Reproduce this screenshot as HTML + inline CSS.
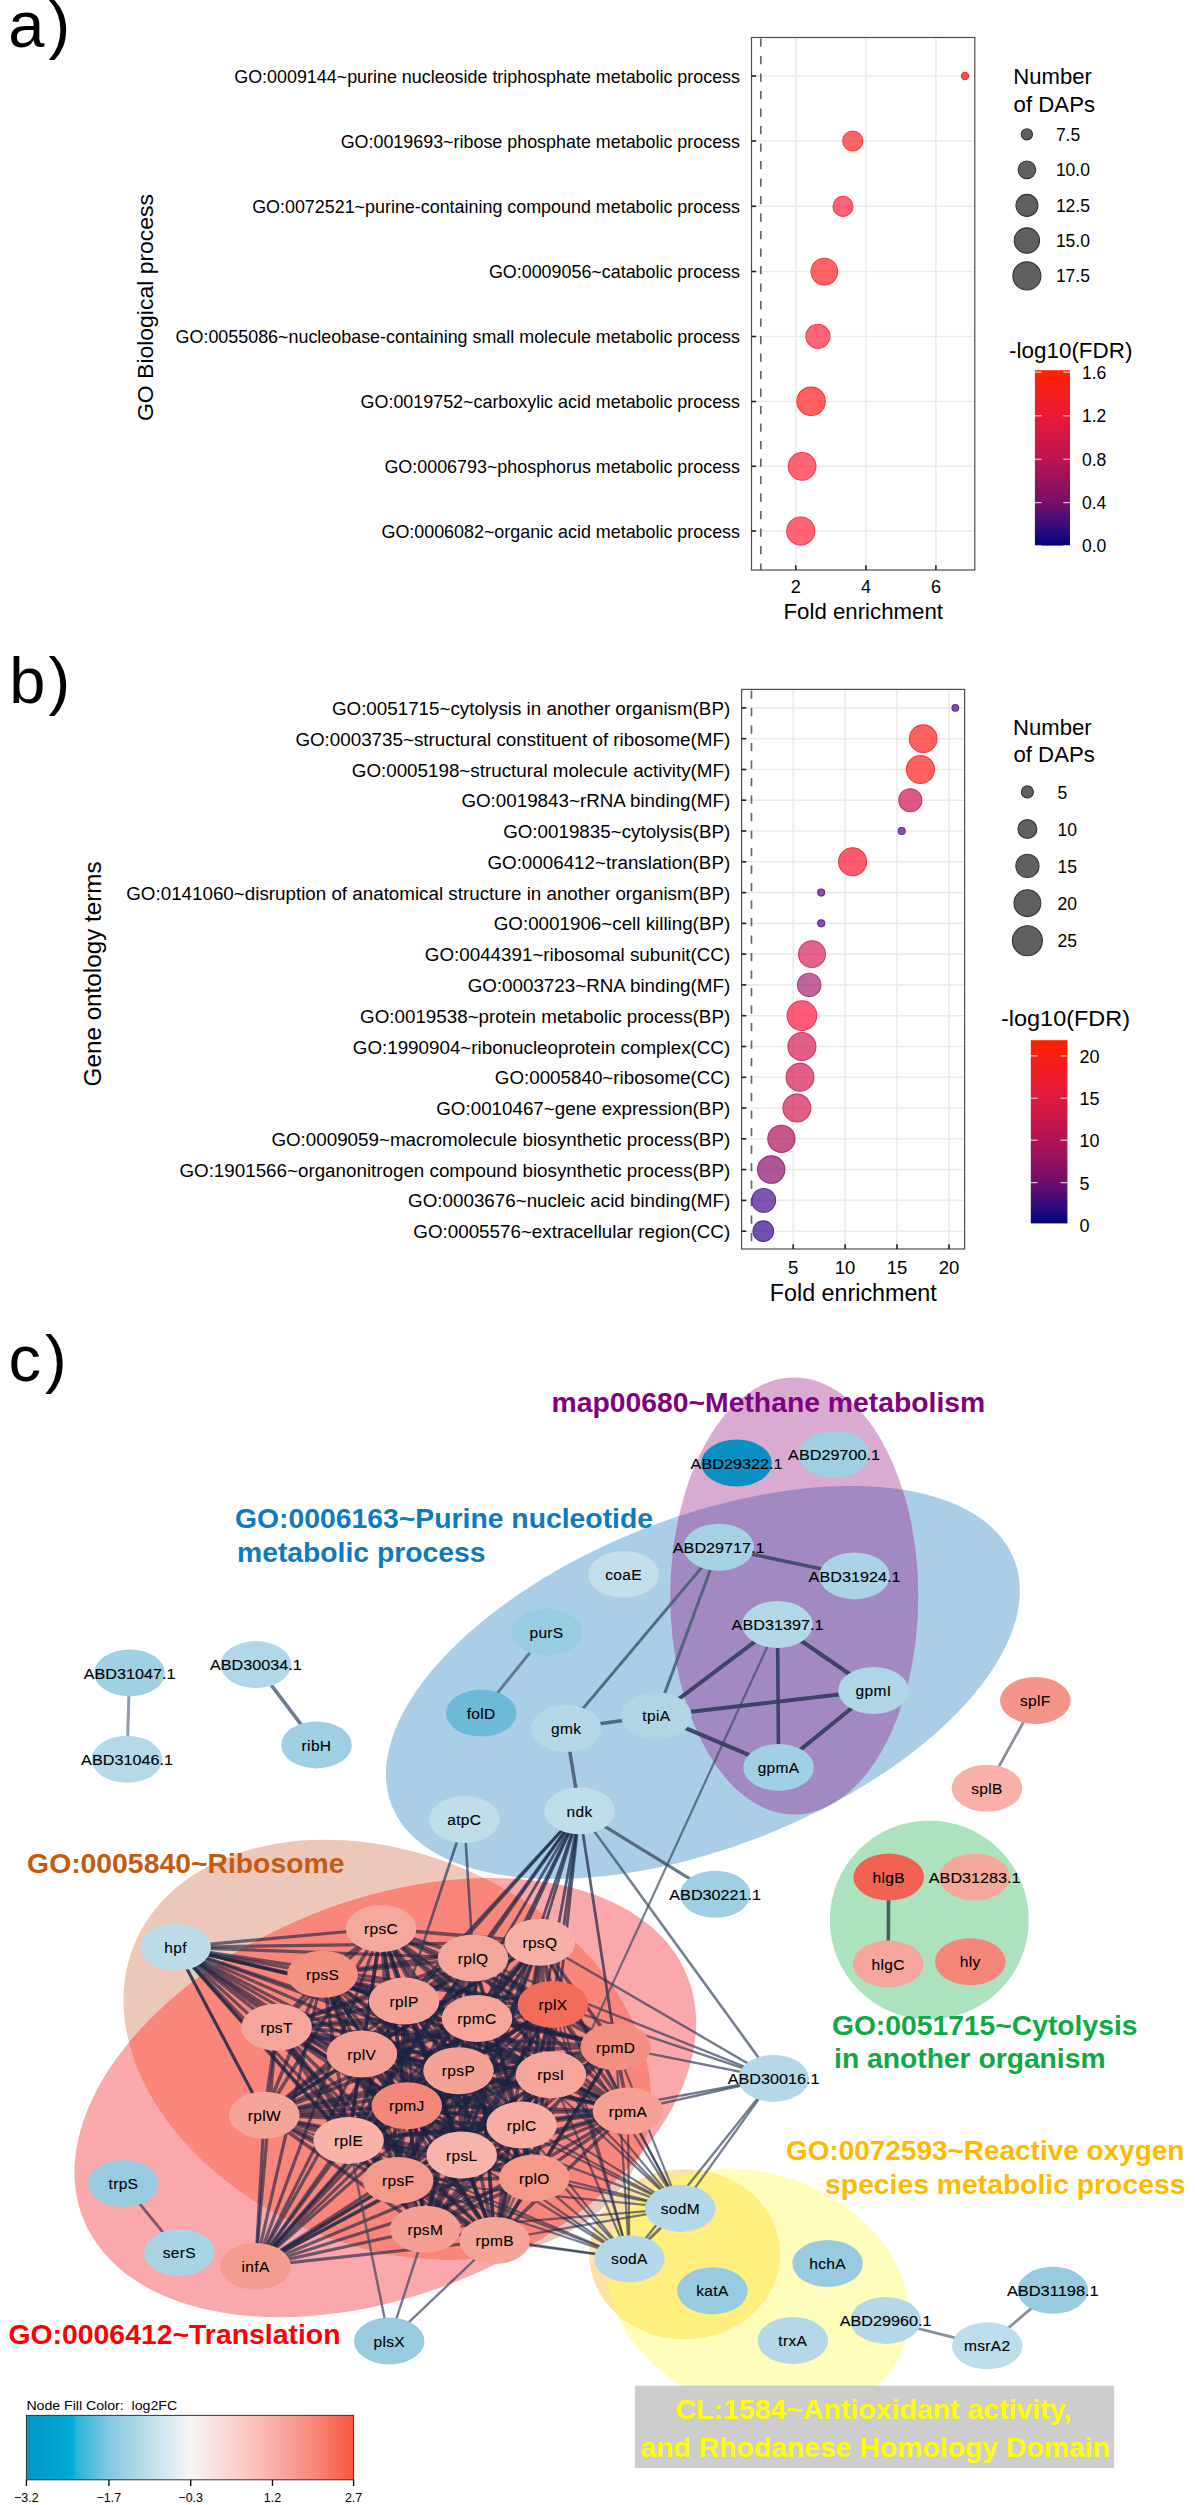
<!DOCTYPE html><html><head><meta charset="utf-8"><style>html,body{margin:0;padding:0;background:#fff}svg{display:block}text{font-family:"Liberation Sans",sans-serif}</style></head><body>
<svg width="1195" height="2505" viewBox="0 0 1195 2505">
<rect width="1195" height="2505" fill="#fff"/>
<text x="8.3" y="47.2" font-size="65" text-anchor="start" font-weight="normal" fill="#000">a</text>
<text x="48.6" y="47.2" font-size="65" text-anchor="start" font-weight="normal" fill="#000">)</text>
<text x="9.2" y="703.1" font-size="65" text-anchor="start" font-weight="normal" fill="#000">b</text>
<text x="48.6" y="703.1" font-size="65" text-anchor="start" font-weight="normal" fill="#000">)</text>
<text x="8.5" y="1380.5" font-size="65" text-anchor="start" font-weight="normal" fill="#000">c</text>
<text x="44.9" y="1380.5" font-size="65" text-anchor="start" font-weight="normal" fill="#000">)</text>
<line x1="795.8" y1="37.5" x2="795.8" y2="570" stroke="#EBEBEB" stroke-width="1.6"/>
<line x1="865.9" y1="37.5" x2="865.9" y2="570" stroke="#EBEBEB" stroke-width="1.6"/>
<line x1="935.9" y1="37.5" x2="935.9" y2="570" stroke="#EBEBEB" stroke-width="1.6"/>
<line x1="751.5" y1="76.0" x2="974.8" y2="76.0" stroke="#EBEBEB" stroke-width="1.6"/>
<line x1="751.5" y1="141.0" x2="974.8" y2="141.0" stroke="#EBEBEB" stroke-width="1.6"/>
<line x1="751.5" y1="206.3" x2="974.8" y2="206.3" stroke="#EBEBEB" stroke-width="1.6"/>
<line x1="751.5" y1="271.5" x2="974.8" y2="271.5" stroke="#EBEBEB" stroke-width="1.6"/>
<line x1="751.5" y1="336.5" x2="974.8" y2="336.5" stroke="#EBEBEB" stroke-width="1.6"/>
<line x1="751.5" y1="401.5" x2="974.8" y2="401.5" stroke="#EBEBEB" stroke-width="1.6"/>
<line x1="751.5" y1="466.3" x2="974.8" y2="466.3" stroke="#EBEBEB" stroke-width="1.6"/>
<line x1="751.5" y1="531.0" x2="974.8" y2="531.0" stroke="#EBEBEB" stroke-width="1.6"/>
<line x1="760.8" y1="38.5" x2="760.8" y2="570" stroke="#5F6B6B" stroke-width="1.7" stroke-dasharray="8.3 9.2"/>
<circle cx="965" cy="76" r="3.6" fill="#FF0505" fill-opacity="0.7" stroke="#FF2A2A" stroke-width="1.1"/>
<circle cx="852.7" cy="141" r="10" fill="#FF2222" fill-opacity="0.7" stroke="#FF3A3A" stroke-width="1.1"/>
<circle cx="843" cy="206.4" r="10" fill="#FF233D" fill-opacity="0.7" stroke="#FF3550" stroke-width="1.1"/>
<circle cx="824.3" cy="271.6" r="13.3" fill="#FF2222" fill-opacity="0.7" stroke="#FF3A3A" stroke-width="1.1"/>
<circle cx="817.9" cy="336.3" r="12" fill="#FF233D" fill-opacity="0.7" stroke="#FF3550" stroke-width="1.1"/>
<circle cx="811.1" cy="401.3" r="14.2" fill="#FF1C1C" fill-opacity="0.7" stroke="#FF3333" stroke-width="1.1"/>
<circle cx="802.1" cy="466.3" r="13.8" fill="#FF233D" fill-opacity="0.7" stroke="#FF3550" stroke-width="1.1"/>
<circle cx="800.7" cy="531" r="14" fill="#FF233D" fill-opacity="0.7" stroke="#FF3550" stroke-width="1.1"/>
<rect x="751.5" y="37.5" width="223.30" height="532.50" fill="none" stroke="#4D4D4D" stroke-width="1.2"/>
<line x1="751.5" y1="76.0" x2="756.1" y2="76.0" stroke="#222" stroke-width="1.6"/>
<line x1="751.5" y1="141.0" x2="756.1" y2="141.0" stroke="#222" stroke-width="1.6"/>
<line x1="751.5" y1="206.3" x2="756.1" y2="206.3" stroke="#222" stroke-width="1.6"/>
<line x1="751.5" y1="271.5" x2="756.1" y2="271.5" stroke="#222" stroke-width="1.6"/>
<line x1="751.5" y1="336.5" x2="756.1" y2="336.5" stroke="#222" stroke-width="1.6"/>
<line x1="751.5" y1="401.5" x2="756.1" y2="401.5" stroke="#222" stroke-width="1.6"/>
<line x1="751.5" y1="466.3" x2="756.1" y2="466.3" stroke="#222" stroke-width="1.6"/>
<line x1="751.5" y1="531.0" x2="756.1" y2="531.0" stroke="#222" stroke-width="1.6"/>
<line x1="795.8" y1="570" x2="795.8" y2="565.2" stroke="#222" stroke-width="1.6"/>
<line x1="865.9" y1="570" x2="865.9" y2="565.2" stroke="#222" stroke-width="1.6"/>
<line x1="935.9" y1="570" x2="935.9" y2="565.2" stroke="#222" stroke-width="1.6"/>
<text x="740.0" y="82.6" font-size="17.9" text-anchor="end" font-weight="normal" fill="#000">GO:0009144~purine nucleoside triphosphate metabolic process</text>
<text x="740.0" y="147.6" font-size="17.9" text-anchor="end" font-weight="normal" fill="#000">GO:0019693~ribose phosphate metabolic process</text>
<text x="740.0" y="212.9" font-size="17.9" text-anchor="end" font-weight="normal" fill="#000">GO:0072521~purine-containing compound metabolic process</text>
<text x="740.0" y="278.1" font-size="17.9" text-anchor="end" font-weight="normal" fill="#000">GO:0009056~catabolic process</text>
<text x="740.0" y="343.1" font-size="17.9" text-anchor="end" font-weight="normal" fill="#000">GO:0055086~nucleobase-containing small molecule metabolic process</text>
<text x="740.0" y="408.1" font-size="17.9" text-anchor="end" font-weight="normal" fill="#000">GO:0019752~carboxylic acid metabolic process</text>
<text x="740.0" y="472.9" font-size="17.9" text-anchor="end" font-weight="normal" fill="#000">GO:0006793~phosphorus metabolic process</text>
<text x="740.0" y="537.6" font-size="17.9" text-anchor="end" font-weight="normal" fill="#000">GO:0006082~organic acid metabolic process</text>
<text x="795.8" y="593.0" font-size="18" text-anchor="middle" font-weight="normal" fill="#000">2</text>
<text x="865.9" y="593.0" font-size="18" text-anchor="middle" font-weight="normal" fill="#000">4</text>
<text x="935.9" y="593.0" font-size="18" text-anchor="middle" font-weight="normal" fill="#000">6</text>
<text x="783.5" y="618.7" font-size="22" text-anchor="start" font-weight="normal" fill="#000" textLength="159.5" lengthAdjust="spacingAndGlyphs">Fold enrichment</text>
<text transform="translate(152.9 307.5) rotate(-90)" x="0" y="0" font-size="22.5" text-anchor="middle" textLength="227" lengthAdjust="spacingAndGlyphs">GO Biological process</text>
<text x="1013.3" y="84.4" font-size="22" text-anchor="start" font-weight="normal" fill="#000" textLength="78.5" lengthAdjust="spacingAndGlyphs">Number</text>
<text x="1013.6" y="111.7" font-size="22" text-anchor="start" font-weight="normal" fill="#000" textLength="81.5" lengthAdjust="spacingAndGlyphs">of DAPs</text>
<circle cx="1026.9" cy="134.3" r="5.6" fill="#606060" stroke="#333" stroke-width="1.1"/>
<text x="1055.9" y="140.7" font-size="17.5" text-anchor="start" font-weight="normal" fill="#000">7.5</text>
<circle cx="1026.9" cy="169.8" r="8.8" fill="#606060" stroke="#333" stroke-width="1.1"/>
<text x="1055.9" y="176.2" font-size="17.5" text-anchor="start" font-weight="normal" fill="#000">10.0</text>
<circle cx="1026.9" cy="205.4" r="11" fill="#606060" stroke="#333" stroke-width="1.1"/>
<text x="1055.9" y="211.8" font-size="17.5" text-anchor="start" font-weight="normal" fill="#000">12.5</text>
<circle cx="1026.9" cy="240.5" r="12.65" fill="#606060" stroke="#333" stroke-width="1.1"/>
<text x="1055.9" y="246.9" font-size="17.5" text-anchor="start" font-weight="normal" fill="#000">15.0</text>
<circle cx="1026.9" cy="275.9" r="14" fill="#606060" stroke="#333" stroke-width="1.1"/>
<text x="1055.9" y="282.3" font-size="17.5" text-anchor="start" font-weight="normal" fill="#000">17.5</text>
<defs><linearGradient id="cbar" x1="0" y1="1" x2="0" y2="0"><stop offset="0" stop-color="#000080"/><stop offset="0.08" stop-color="#2A0B7E"/><stop offset="0.25" stop-color="#780F68"/><stop offset="0.5" stop-color="#BD1450"/><stop offset="0.75" stop-color="#EA1A36"/><stop offset="1" stop-color="#FF2200"/></linearGradient></defs>
<text x="1009.1" y="357.8" font-size="22" text-anchor="start" font-weight="normal" fill="#000" textLength="123.3" lengthAdjust="spacingAndGlyphs">-log10(FDR)</text>
<rect x="1034.9" y="370.2" width="35.1" height="175.4" fill="url(#cbar)"/>
<line x1="1034.9" y1="372.2" x2="1041.6" y2="372.2" stroke="#fff" stroke-opacity="0.75" stroke-width="1.2"/>
<line x1="1063.3" y1="372.2" x2="1070" y2="372.2" stroke="#fff" stroke-opacity="0.75" stroke-width="1.2"/>
<text x="1082.0" y="378.6" font-size="17.5" text-anchor="start" font-weight="normal" fill="#000">1.6</text>
<line x1="1034.9" y1="415.8" x2="1041.6" y2="415.8" stroke="#fff" stroke-opacity="0.75" stroke-width="1.2"/>
<line x1="1063.3" y1="415.8" x2="1070" y2="415.8" stroke="#fff" stroke-opacity="0.75" stroke-width="1.2"/>
<text x="1082.0" y="422.2" font-size="17.5" text-anchor="start" font-weight="normal" fill="#000">1.2</text>
<line x1="1034.9" y1="459.2" x2="1041.6" y2="459.2" stroke="#fff" stroke-opacity="0.75" stroke-width="1.2"/>
<line x1="1063.3" y1="459.2" x2="1070" y2="459.2" stroke="#fff" stroke-opacity="0.75" stroke-width="1.2"/>
<text x="1082.0" y="465.6" font-size="17.5" text-anchor="start" font-weight="normal" fill="#000">0.8</text>
<line x1="1034.9" y1="502.6" x2="1041.6" y2="502.6" stroke="#fff" stroke-opacity="0.75" stroke-width="1.2"/>
<line x1="1063.3" y1="502.6" x2="1070" y2="502.6" stroke="#fff" stroke-opacity="0.75" stroke-width="1.2"/>
<text x="1082.0" y="509.0" font-size="17.5" text-anchor="start" font-weight="normal" fill="#000">0.4</text>
<line x1="1034.9" y1="545.9" x2="1041.6" y2="545.9" stroke="#fff" stroke-opacity="0.75" stroke-width="1.2"/>
<line x1="1063.3" y1="545.9" x2="1070" y2="545.9" stroke="#fff" stroke-opacity="0.75" stroke-width="1.2"/>
<text x="1082.0" y="552.3" font-size="17.5" text-anchor="start" font-weight="normal" fill="#000">0.0</text>
<line x1="793.2" y1="689.4" x2="793.2" y2="1249" stroke="#EBEBEB" stroke-width="1.6"/>
<line x1="845.1" y1="689.4" x2="845.1" y2="1249" stroke="#EBEBEB" stroke-width="1.6"/>
<line x1="897.0" y1="689.4" x2="897.0" y2="1249" stroke="#EBEBEB" stroke-width="1.6"/>
<line x1="949.0" y1="689.4" x2="949.0" y2="1249" stroke="#EBEBEB" stroke-width="1.6"/>
<line x1="741.6" y1="707.9" x2="964.6" y2="707.9" stroke="#EBEBEB" stroke-width="1.6"/>
<line x1="741.6" y1="738.7" x2="964.6" y2="738.7" stroke="#EBEBEB" stroke-width="1.6"/>
<line x1="741.6" y1="769.5" x2="964.6" y2="769.5" stroke="#EBEBEB" stroke-width="1.6"/>
<line x1="741.6" y1="800.2" x2="964.6" y2="800.2" stroke="#EBEBEB" stroke-width="1.6"/>
<line x1="741.6" y1="831.0" x2="964.6" y2="831.0" stroke="#EBEBEB" stroke-width="1.6"/>
<line x1="741.6" y1="861.8" x2="964.6" y2="861.8" stroke="#EBEBEB" stroke-width="1.6"/>
<line x1="741.6" y1="892.6" x2="964.6" y2="892.6" stroke="#EBEBEB" stroke-width="1.6"/>
<line x1="741.6" y1="923.4" x2="964.6" y2="923.4" stroke="#EBEBEB" stroke-width="1.6"/>
<line x1="741.6" y1="954.1" x2="964.6" y2="954.1" stroke="#EBEBEB" stroke-width="1.6"/>
<line x1="741.6" y1="984.9" x2="964.6" y2="984.9" stroke="#EBEBEB" stroke-width="1.6"/>
<line x1="741.6" y1="1015.7" x2="964.6" y2="1015.7" stroke="#EBEBEB" stroke-width="1.6"/>
<line x1="741.6" y1="1046.5" x2="964.6" y2="1046.5" stroke="#EBEBEB" stroke-width="1.6"/>
<line x1="741.6" y1="1077.3" x2="964.6" y2="1077.3" stroke="#EBEBEB" stroke-width="1.6"/>
<line x1="741.6" y1="1108.0" x2="964.6" y2="1108.0" stroke="#EBEBEB" stroke-width="1.6"/>
<line x1="741.6" y1="1138.8" x2="964.6" y2="1138.8" stroke="#EBEBEB" stroke-width="1.6"/>
<line x1="741.6" y1="1169.6" x2="964.6" y2="1169.6" stroke="#EBEBEB" stroke-width="1.6"/>
<line x1="741.6" y1="1200.4" x2="964.6" y2="1200.4" stroke="#EBEBEB" stroke-width="1.6"/>
<line x1="741.6" y1="1231.2" x2="964.6" y2="1231.2" stroke="#EBEBEB" stroke-width="1.6"/>
<line x1="751.5" y1="690.4" x2="751.5" y2="1249" stroke="#5F6B6B" stroke-width="1.7" stroke-dasharray="8.3 9.2"/>
<circle cx="955.3" cy="707.9" r="3.3" fill="#58048E" fill-opacity="0.7" stroke="#5E2C8C" stroke-width="1.1"/>
<circle cx="923.2" cy="738.68" r="13.8" fill="#FF1C1C" fill-opacity="0.7" stroke="#FF3838" stroke-width="1.1"/>
<circle cx="920.4" cy="769.46" r="14" fill="#FF1C1C" fill-opacity="0.7" stroke="#FF3838" stroke-width="1.1"/>
<circle cx="910.3" cy="800.24" r="11.5" fill="#CC134F" fill-opacity="0.7" stroke="#C43466" stroke-width="1.1"/>
<circle cx="901.7" cy="831.02" r="3.5" fill="#58048E" fill-opacity="0.7" stroke="#5E2C8C" stroke-width="1.1"/>
<circle cx="852.6" cy="861.8" r="14" fill="#FF1630" fill-opacity="0.7" stroke="#FF3048" stroke-width="1.1"/>
<circle cx="821.2" cy="892.5799999999999" r="3.5" fill="#58048E" fill-opacity="0.7" stroke="#5E2C8C" stroke-width="1.1"/>
<circle cx="821.2" cy="923.36" r="3.5" fill="#58048E" fill-opacity="0.7" stroke="#5E2C8C" stroke-width="1.1"/>
<circle cx="812" cy="954.14" r="13.4" fill="#D6225B" fill-opacity="0.7" stroke="#D03C6C" stroke-width="1.1"/>
<circle cx="809.2" cy="984.92" r="11.7" fill="#A5226F" fill-opacity="0.7" stroke="#A03C7C" stroke-width="1.1"/>
<circle cx="801.9" cy="1015.7" r="14.8" fill="#FF163E" fill-opacity="0.7" stroke="#F0385A" stroke-width="1.1"/>
<circle cx="801.9" cy="1046.48" r="14" fill="#D71952" fill-opacity="0.7" stroke="#D03666" stroke-width="1.1"/>
<circle cx="800" cy="1077.26" r="13.9" fill="#D71952" fill-opacity="0.7" stroke="#D03666" stroke-width="1.1"/>
<circle cx="796.9" cy="1108.04" r="13.9" fill="#D31952" fill-opacity="0.7" stroke="#CC3666" stroke-width="1.1"/>
<circle cx="781.4" cy="1138.82" r="13.6" fill="#B00E5E" fill-opacity="0.7" stroke="#B0306E" stroke-width="1.1"/>
<circle cx="771.2" cy="1169.6" r="13.7" fill="#8B0E6C" fill-opacity="0.7" stroke="#8E307C" stroke-width="1.1"/>
<circle cx="763.7" cy="1200.38" r="11.9" fill="#470E8E" fill-opacity="0.7" stroke="#5C3494" stroke-width="1.1"/>
<circle cx="763.3" cy="1231.1599999999999" r="10.3" fill="#38058E" fill-opacity="0.7" stroke="#523094" stroke-width="1.1"/>
<rect x="741.6" y="689.4" width="223.00" height="559.60" fill="none" stroke="#4D4D4D" stroke-width="1.2"/>
<line x1="741.6" y1="707.9" x2="746.2" y2="707.9" stroke="#222" stroke-width="1.6"/>
<line x1="741.6" y1="738.7" x2="746.2" y2="738.7" stroke="#222" stroke-width="1.6"/>
<line x1="741.6" y1="769.5" x2="746.2" y2="769.5" stroke="#222" stroke-width="1.6"/>
<line x1="741.6" y1="800.2" x2="746.2" y2="800.2" stroke="#222" stroke-width="1.6"/>
<line x1="741.6" y1="831.0" x2="746.2" y2="831.0" stroke="#222" stroke-width="1.6"/>
<line x1="741.6" y1="861.8" x2="746.2" y2="861.8" stroke="#222" stroke-width="1.6"/>
<line x1="741.6" y1="892.6" x2="746.2" y2="892.6" stroke="#222" stroke-width="1.6"/>
<line x1="741.6" y1="923.4" x2="746.2" y2="923.4" stroke="#222" stroke-width="1.6"/>
<line x1="741.6" y1="954.1" x2="746.2" y2="954.1" stroke="#222" stroke-width="1.6"/>
<line x1="741.6" y1="984.9" x2="746.2" y2="984.9" stroke="#222" stroke-width="1.6"/>
<line x1="741.6" y1="1015.7" x2="746.2" y2="1015.7" stroke="#222" stroke-width="1.6"/>
<line x1="741.6" y1="1046.5" x2="746.2" y2="1046.5" stroke="#222" stroke-width="1.6"/>
<line x1="741.6" y1="1077.3" x2="746.2" y2="1077.3" stroke="#222" stroke-width="1.6"/>
<line x1="741.6" y1="1108.0" x2="746.2" y2="1108.0" stroke="#222" stroke-width="1.6"/>
<line x1="741.6" y1="1138.8" x2="746.2" y2="1138.8" stroke="#222" stroke-width="1.6"/>
<line x1="741.6" y1="1169.6" x2="746.2" y2="1169.6" stroke="#222" stroke-width="1.6"/>
<line x1="741.6" y1="1200.4" x2="746.2" y2="1200.4" stroke="#222" stroke-width="1.6"/>
<line x1="741.6" y1="1231.2" x2="746.2" y2="1231.2" stroke="#222" stroke-width="1.6"/>
<line x1="793.2" y1="1249" x2="793.2" y2="1244.2" stroke="#222" stroke-width="1.6"/>
<line x1="845.1" y1="1249" x2="845.1" y2="1244.2" stroke="#222" stroke-width="1.6"/>
<line x1="897.0" y1="1249" x2="897.0" y2="1244.2" stroke="#222" stroke-width="1.6"/>
<line x1="949.0" y1="1249" x2="949.0" y2="1244.2" stroke="#222" stroke-width="1.6"/>
<text x="730.2" y="714.9" font-size="18.8" text-anchor="end" font-weight="normal" fill="#000">GO:0051715~cytolysis in another organism(BP)</text>
<text x="730.2" y="745.7" font-size="18.8" text-anchor="end" font-weight="normal" fill="#000">GO:0003735~structural constituent of ribosome(MF)</text>
<text x="730.2" y="776.5" font-size="18.8" text-anchor="end" font-weight="normal" fill="#000">GO:0005198~structural molecule activity(MF)</text>
<text x="730.2" y="807.2" font-size="18.8" text-anchor="end" font-weight="normal" fill="#000">GO:0019843~rRNA binding(MF)</text>
<text x="730.2" y="838.0" font-size="18.8" text-anchor="end" font-weight="normal" fill="#000">GO:0019835~cytolysis(BP)</text>
<text x="730.2" y="868.8" font-size="18.8" text-anchor="end" font-weight="normal" fill="#000">GO:0006412~translation(BP)</text>
<text x="730.2" y="899.6" font-size="18.8" text-anchor="end" font-weight="normal" fill="#000">GO:0141060~disruption of anatomical structure in another organism(BP)</text>
<text x="730.2" y="930.4" font-size="18.8" text-anchor="end" font-weight="normal" fill="#000">GO:0001906~cell killing(BP)</text>
<text x="730.2" y="961.1" font-size="18.8" text-anchor="end" font-weight="normal" fill="#000">GO:0044391~ribosomal subunit(CC)</text>
<text x="730.2" y="991.9" font-size="18.8" text-anchor="end" font-weight="normal" fill="#000">GO:0003723~RNA binding(MF)</text>
<text x="730.2" y="1022.7" font-size="18.8" text-anchor="end" font-weight="normal" fill="#000">GO:0019538~protein metabolic process(BP)</text>
<text x="730.2" y="1053.5" font-size="18.8" text-anchor="end" font-weight="normal" fill="#000">GO:1990904~ribonucleoprotein complex(CC)</text>
<text x="730.2" y="1084.3" font-size="18.8" text-anchor="end" font-weight="normal" fill="#000">GO:0005840~ribosome(CC)</text>
<text x="730.2" y="1115.0" font-size="18.8" text-anchor="end" font-weight="normal" fill="#000">GO:0010467~gene expression(BP)</text>
<text x="730.2" y="1145.8" font-size="18.8" text-anchor="end" font-weight="normal" fill="#000">GO:0009059~macromolecule biosynthetic process(BP)</text>
<text x="730.2" y="1176.6" font-size="18.8" text-anchor="end" font-weight="normal" fill="#000">GO:1901566~organonitrogen compound biosynthetic process(BP)</text>
<text x="730.2" y="1207.4" font-size="18.8" text-anchor="end" font-weight="normal" fill="#000">GO:0003676~nucleic acid binding(MF)</text>
<text x="730.2" y="1238.2" font-size="18.8" text-anchor="end" font-weight="normal" fill="#000">GO:0005576~extracellular region(CC)</text>
<text x="793.2" y="1273.8" font-size="18.5" text-anchor="middle" font-weight="normal" fill="#000">5</text>
<text x="845.1" y="1273.8" font-size="18.5" text-anchor="middle" font-weight="normal" fill="#000">10</text>
<text x="897.0" y="1273.8" font-size="18.5" text-anchor="middle" font-weight="normal" fill="#000">15</text>
<text x="949.0" y="1273.8" font-size="18.5" text-anchor="middle" font-weight="normal" fill="#000">20</text>
<text x="769.8" y="1300.8" font-size="23" text-anchor="start" font-weight="normal" fill="#000" textLength="167.0" lengthAdjust="spacingAndGlyphs">Fold enrichment</text>
<text transform="translate(100.9 973.9) rotate(-90)" x="0" y="0" font-size="23.5" text-anchor="middle" textLength="225" lengthAdjust="spacingAndGlyphs">Gene ontology terms</text>
<text x="1013.1" y="734.8" font-size="22" text-anchor="start" font-weight="normal" fill="#000" textLength="78.5" lengthAdjust="spacingAndGlyphs">Number</text>
<text x="1013.4" y="762.0" font-size="22" text-anchor="start" font-weight="normal" fill="#000" textLength="81.5" lengthAdjust="spacingAndGlyphs">of DAPs</text>
<circle cx="1027.4" cy="791.9" r="6" fill="#606060" stroke="#333" stroke-width="1.1"/>
<text x="1057.6" y="798.5" font-size="17.5" text-anchor="start" font-weight="normal" fill="#000">5</text>
<circle cx="1027.4" cy="829" r="9.5" fill="#606060" stroke="#333" stroke-width="1.1"/>
<text x="1057.6" y="835.6" font-size="17.5" text-anchor="start" font-weight="normal" fill="#000">10</text>
<circle cx="1027.4" cy="865.9" r="11.6" fill="#606060" stroke="#333" stroke-width="1.1"/>
<text x="1057.6" y="872.5" font-size="17.5" text-anchor="start" font-weight="normal" fill="#000">15</text>
<circle cx="1027.4" cy="903.2" r="13.4" fill="#606060" stroke="#333" stroke-width="1.1"/>
<text x="1057.6" y="909.8" font-size="17.5" text-anchor="start" font-weight="normal" fill="#000">20</text>
<circle cx="1027.4" cy="940.8" r="15" fill="#606060" stroke="#333" stroke-width="1.1"/>
<text x="1057.6" y="947.4" font-size="17.5" text-anchor="start" font-weight="normal" fill="#000">25</text>
<text x="1001.0" y="1026.4" font-size="22" text-anchor="start" font-weight="normal" fill="#000" textLength="129.0" lengthAdjust="spacingAndGlyphs">-log10(FDR)</text>
<rect x="1030.8" y="1040.2" width="36.6" height="183.2" fill="url(#cbar)"/>
<line x1="1030.8" y1="1055.9" x2="1037.6" y2="1055.9" stroke="#fff" stroke-opacity="0.75" stroke-width="1.2"/>
<line x1="1060.6" y1="1055.9" x2="1067.4" y2="1055.9" stroke="#fff" stroke-opacity="0.75" stroke-width="1.2"/>
<text x="1079.4" y="1062.9" font-size="18" text-anchor="start" font-weight="normal" fill="#000">20</text>
<line x1="1030.8" y1="1098.2" x2="1037.6" y2="1098.2" stroke="#fff" stroke-opacity="0.75" stroke-width="1.2"/>
<line x1="1060.6" y1="1098.2" x2="1067.4" y2="1098.2" stroke="#fff" stroke-opacity="0.75" stroke-width="1.2"/>
<text x="1079.4" y="1105.2" font-size="18" text-anchor="start" font-weight="normal" fill="#000">15</text>
<line x1="1030.8" y1="1140.2" x2="1037.6" y2="1140.2" stroke="#fff" stroke-opacity="0.75" stroke-width="1.2"/>
<line x1="1060.6" y1="1140.2" x2="1067.4" y2="1140.2" stroke="#fff" stroke-opacity="0.75" stroke-width="1.2"/>
<text x="1079.4" y="1147.2" font-size="18" text-anchor="start" font-weight="normal" fill="#000">10</text>
<line x1="1030.8" y1="1182.6" x2="1037.6" y2="1182.6" stroke="#fff" stroke-opacity="0.75" stroke-width="1.2"/>
<line x1="1060.6" y1="1182.6" x2="1067.4" y2="1182.6" stroke="#fff" stroke-opacity="0.75" stroke-width="1.2"/>
<text x="1079.4" y="1189.6" font-size="18" text-anchor="start" font-weight="normal" fill="#000">5</text>
<line x1="1030.8" y1="1224.7" x2="1037.6" y2="1224.7" stroke="#fff" stroke-opacity="0.75" stroke-width="1.2"/>
<line x1="1060.6" y1="1224.7" x2="1067.4" y2="1224.7" stroke="#fff" stroke-opacity="0.75" stroke-width="1.2"/>
<text x="1079.4" y="1231.7" font-size="18" text-anchor="start" font-weight="normal" fill="#000">0</text>
<defs><clipPath id="cTan"><ellipse cx="387.3" cy="2049.8" rx="274.1" ry="196.5" transform="rotate(22.9 387.3 2049.8)"/></clipPath><clipPath id="cBlue"><ellipse cx="702.9" cy="1682.5" rx="334.6" ry="164.7" transform="rotate(-21.6 702.9 1682.5)"/></clipPath><clipPath id="cYB"><ellipse cx="758" cy="2292.5" rx="155.7" ry="118.3" transform="rotate(21.5 758 2292.5)"/></clipPath></defs>
<ellipse cx="387.3" cy="2049.8" rx="274.1" ry="196.5" transform="rotate(22.9 387.3 2049.8)" fill="#ECC7BA"/>
<ellipse cx="385.3" cy="2097.6" rx="325.5" ry="197.2" transform="rotate(-21.9 385.3 2097.6)" fill="#FAA8AC"/>
<g clip-path="url(#cTan)"><ellipse cx="385.3" cy="2097.6" rx="325.5" ry="197.2" transform="rotate(-21.9 385.3 2097.6)" fill="#F9857B"/></g>
<ellipse cx="702.9" cy="1682.5" rx="334.6" ry="164.7" transform="rotate(-21.6 702.9 1682.5)" fill="#AACEE6"/>
<ellipse cx="794.3" cy="1596" rx="124" ry="218.5" fill="#DAABD0"/>
<g clip-path="url(#cBlue)"><ellipse cx="794.3" cy="1596" rx="124" ry="218.5" fill="#A289C1"/></g>
<circle cx="929.3" cy="1920" r="99.5" fill="#ADE2BF"/>
<ellipse cx="758" cy="2292.5" rx="155.7" ry="118.3" transform="rotate(21.5 758 2292.5)" fill="#FFFDBA"/>
<ellipse cx="684.6" cy="2254.2" rx="95.4" ry="85" fill="#FCE3A5"/>
<g clip-path="url(#cYB)"><ellipse cx="684.6" cy="2254.2" rx="95.4" ry="85" fill="#FFEF7E"/></g>
<line x1="381.1" y1="1928.5" x2="473.0" y2="1958.0" stroke="#1A2240" stroke-width="3.6" stroke-opacity="0.62"/>
<line x1="381.1" y1="1928.5" x2="539.9" y2="1942.2" stroke="#1A2240" stroke-width="3.6" stroke-opacity="0.62"/>
<line x1="381.1" y1="1928.5" x2="322.6" y2="1974.3" stroke="#1A2240" stroke-width="3.6" stroke-opacity="0.62"/>
<line x1="381.1" y1="1928.5" x2="404.1" y2="2001.1" stroke="#1A2240" stroke-width="3.6" stroke-opacity="0.62"/>
<line x1="381.1" y1="1928.5" x2="477.0" y2="2018.5" stroke="#1A2240" stroke-width="3.6" stroke-opacity="0.62"/>
<line x1="381.1" y1="1928.5" x2="553.0" y2="2004.4" stroke="#1A2240" stroke-width="3.6" stroke-opacity="0.62"/>
<line x1="381.1" y1="1928.5" x2="276.6" y2="2027.2" stroke="#1A2240" stroke-width="3.6" stroke-opacity="0.62"/>
<line x1="381.1" y1="1928.5" x2="361.8" y2="2054.0" stroke="#1A2240" stroke-width="3.6" stroke-opacity="0.62"/>
<line x1="381.1" y1="1928.5" x2="458.5" y2="2070.7" stroke="#1A2240" stroke-width="3.6" stroke-opacity="0.62"/>
<line x1="381.1" y1="1928.5" x2="550.9" y2="2074.8" stroke="#1A2240" stroke-width="3.6" stroke-opacity="0.62"/>
<line x1="381.1" y1="1928.5" x2="615.7" y2="2046.9" stroke="#1A2240" stroke-width="3.6" stroke-opacity="0.62"/>
<line x1="381.1" y1="1928.5" x2="264.3" y2="2115.2" stroke="#1A2240" stroke-width="3.6" stroke-opacity="0.62"/>
<line x1="381.1" y1="1928.5" x2="406.8" y2="2105.8" stroke="#1A2240" stroke-width="3.6" stroke-opacity="0.62"/>
<line x1="381.1" y1="1928.5" x2="348.6" y2="2140.4" stroke="#1A2240" stroke-width="3.6" stroke-opacity="0.62"/>
<line x1="381.1" y1="1928.5" x2="521.6" y2="2125.1" stroke="#1A2240" stroke-width="3.6" stroke-opacity="0.62"/>
<line x1="381.1" y1="1928.5" x2="628.0" y2="2111.0" stroke="#1A2240" stroke-width="3.6" stroke-opacity="0.62"/>
<line x1="381.1" y1="1928.5" x2="461.7" y2="2155.0" stroke="#1A2240" stroke-width="3.6" stroke-opacity="0.62"/>
<line x1="381.1" y1="1928.5" x2="398.2" y2="2180.4" stroke="#1A2240" stroke-width="3.6" stroke-opacity="0.62"/>
<line x1="381.1" y1="1928.5" x2="534.3" y2="2177.9" stroke="#1A2240" stroke-width="3.6" stroke-opacity="0.62"/>
<line x1="381.1" y1="1928.5" x2="425.3" y2="2229.3" stroke="#1A2240" stroke-width="3.6" stroke-opacity="0.62"/>
<line x1="381.1" y1="1928.5" x2="494.7" y2="2240.5" stroke="#1A2240" stroke-width="3.6" stroke-opacity="0.62"/>
<line x1="473.0" y1="1958.0" x2="539.9" y2="1942.2" stroke="#1A2240" stroke-width="3.6" stroke-opacity="0.62"/>
<line x1="473.0" y1="1958.0" x2="322.6" y2="1974.3" stroke="#1A2240" stroke-width="3.6" stroke-opacity="0.62"/>
<line x1="473.0" y1="1958.0" x2="404.1" y2="2001.1" stroke="#1A2240" stroke-width="3.6" stroke-opacity="0.62"/>
<line x1="473.0" y1="1958.0" x2="477.0" y2="2018.5" stroke="#1A2240" stroke-width="3.6" stroke-opacity="0.62"/>
<line x1="473.0" y1="1958.0" x2="553.0" y2="2004.4" stroke="#1A2240" stroke-width="3.6" stroke-opacity="0.62"/>
<line x1="473.0" y1="1958.0" x2="276.6" y2="2027.2" stroke="#1A2240" stroke-width="3.6" stroke-opacity="0.62"/>
<line x1="473.0" y1="1958.0" x2="361.8" y2="2054.0" stroke="#1A2240" stroke-width="3.6" stroke-opacity="0.62"/>
<line x1="473.0" y1="1958.0" x2="458.5" y2="2070.7" stroke="#1A2240" stroke-width="3.6" stroke-opacity="0.62"/>
<line x1="473.0" y1="1958.0" x2="550.9" y2="2074.8" stroke="#1A2240" stroke-width="3.6" stroke-opacity="0.62"/>
<line x1="473.0" y1="1958.0" x2="615.7" y2="2046.9" stroke="#1A2240" stroke-width="3.6" stroke-opacity="0.62"/>
<line x1="473.0" y1="1958.0" x2="264.3" y2="2115.2" stroke="#1A2240" stroke-width="3.6" stroke-opacity="0.62"/>
<line x1="473.0" y1="1958.0" x2="406.8" y2="2105.8" stroke="#1A2240" stroke-width="3.6" stroke-opacity="0.62"/>
<line x1="473.0" y1="1958.0" x2="348.6" y2="2140.4" stroke="#1A2240" stroke-width="3.6" stroke-opacity="0.62"/>
<line x1="473.0" y1="1958.0" x2="521.6" y2="2125.1" stroke="#1A2240" stroke-width="3.6" stroke-opacity="0.62"/>
<line x1="473.0" y1="1958.0" x2="628.0" y2="2111.0" stroke="#1A2240" stroke-width="3.6" stroke-opacity="0.62"/>
<line x1="473.0" y1="1958.0" x2="461.7" y2="2155.0" stroke="#1A2240" stroke-width="3.6" stroke-opacity="0.62"/>
<line x1="473.0" y1="1958.0" x2="398.2" y2="2180.4" stroke="#1A2240" stroke-width="3.6" stroke-opacity="0.62"/>
<line x1="473.0" y1="1958.0" x2="534.3" y2="2177.9" stroke="#1A2240" stroke-width="3.6" stroke-opacity="0.62"/>
<line x1="473.0" y1="1958.0" x2="425.3" y2="2229.3" stroke="#1A2240" stroke-width="3.6" stroke-opacity="0.62"/>
<line x1="473.0" y1="1958.0" x2="494.7" y2="2240.5" stroke="#1A2240" stroke-width="3.6" stroke-opacity="0.62"/>
<line x1="539.9" y1="1942.2" x2="322.6" y2="1974.3" stroke="#1A2240" stroke-width="3.6" stroke-opacity="0.62"/>
<line x1="539.9" y1="1942.2" x2="404.1" y2="2001.1" stroke="#1A2240" stroke-width="3.6" stroke-opacity="0.62"/>
<line x1="539.9" y1="1942.2" x2="477.0" y2="2018.5" stroke="#1A2240" stroke-width="3.6" stroke-opacity="0.62"/>
<line x1="539.9" y1="1942.2" x2="553.0" y2="2004.4" stroke="#1A2240" stroke-width="3.6" stroke-opacity="0.62"/>
<line x1="539.9" y1="1942.2" x2="276.6" y2="2027.2" stroke="#1A2240" stroke-width="3.6" stroke-opacity="0.62"/>
<line x1="539.9" y1="1942.2" x2="361.8" y2="2054.0" stroke="#1A2240" stroke-width="3.6" stroke-opacity="0.62"/>
<line x1="539.9" y1="1942.2" x2="458.5" y2="2070.7" stroke="#1A2240" stroke-width="3.6" stroke-opacity="0.62"/>
<line x1="539.9" y1="1942.2" x2="550.9" y2="2074.8" stroke="#1A2240" stroke-width="3.6" stroke-opacity="0.62"/>
<line x1="539.9" y1="1942.2" x2="615.7" y2="2046.9" stroke="#1A2240" stroke-width="3.6" stroke-opacity="0.62"/>
<line x1="539.9" y1="1942.2" x2="264.3" y2="2115.2" stroke="#1A2240" stroke-width="3.6" stroke-opacity="0.62"/>
<line x1="539.9" y1="1942.2" x2="406.8" y2="2105.8" stroke="#1A2240" stroke-width="3.6" stroke-opacity="0.62"/>
<line x1="539.9" y1="1942.2" x2="348.6" y2="2140.4" stroke="#1A2240" stroke-width="3.6" stroke-opacity="0.62"/>
<line x1="539.9" y1="1942.2" x2="521.6" y2="2125.1" stroke="#1A2240" stroke-width="3.6" stroke-opacity="0.62"/>
<line x1="539.9" y1="1942.2" x2="628.0" y2="2111.0" stroke="#1A2240" stroke-width="3.6" stroke-opacity="0.62"/>
<line x1="539.9" y1="1942.2" x2="461.7" y2="2155.0" stroke="#1A2240" stroke-width="3.6" stroke-opacity="0.62"/>
<line x1="539.9" y1="1942.2" x2="398.2" y2="2180.4" stroke="#1A2240" stroke-width="3.6" stroke-opacity="0.62"/>
<line x1="539.9" y1="1942.2" x2="534.3" y2="2177.9" stroke="#1A2240" stroke-width="3.6" stroke-opacity="0.62"/>
<line x1="539.9" y1="1942.2" x2="425.3" y2="2229.3" stroke="#1A2240" stroke-width="3.6" stroke-opacity="0.62"/>
<line x1="539.9" y1="1942.2" x2="494.7" y2="2240.5" stroke="#1A2240" stroke-width="3.6" stroke-opacity="0.62"/>
<line x1="322.6" y1="1974.3" x2="404.1" y2="2001.1" stroke="#1A2240" stroke-width="3.6" stroke-opacity="0.62"/>
<line x1="322.6" y1="1974.3" x2="477.0" y2="2018.5" stroke="#1A2240" stroke-width="3.6" stroke-opacity="0.62"/>
<line x1="322.6" y1="1974.3" x2="553.0" y2="2004.4" stroke="#1A2240" stroke-width="3.6" stroke-opacity="0.62"/>
<line x1="322.6" y1="1974.3" x2="276.6" y2="2027.2" stroke="#1A2240" stroke-width="3.6" stroke-opacity="0.62"/>
<line x1="322.6" y1="1974.3" x2="361.8" y2="2054.0" stroke="#1A2240" stroke-width="3.6" stroke-opacity="0.62"/>
<line x1="322.6" y1="1974.3" x2="458.5" y2="2070.7" stroke="#1A2240" stroke-width="3.6" stroke-opacity="0.62"/>
<line x1="322.6" y1="1974.3" x2="550.9" y2="2074.8" stroke="#1A2240" stroke-width="3.6" stroke-opacity="0.62"/>
<line x1="322.6" y1="1974.3" x2="615.7" y2="2046.9" stroke="#1A2240" stroke-width="3.6" stroke-opacity="0.62"/>
<line x1="322.6" y1="1974.3" x2="264.3" y2="2115.2" stroke="#1A2240" stroke-width="3.6" stroke-opacity="0.62"/>
<line x1="322.6" y1="1974.3" x2="406.8" y2="2105.8" stroke="#1A2240" stroke-width="3.6" stroke-opacity="0.62"/>
<line x1="322.6" y1="1974.3" x2="348.6" y2="2140.4" stroke="#1A2240" stroke-width="3.6" stroke-opacity="0.62"/>
<line x1="322.6" y1="1974.3" x2="521.6" y2="2125.1" stroke="#1A2240" stroke-width="3.6" stroke-opacity="0.62"/>
<line x1="322.6" y1="1974.3" x2="628.0" y2="2111.0" stroke="#1A2240" stroke-width="3.6" stroke-opacity="0.62"/>
<line x1="322.6" y1="1974.3" x2="461.7" y2="2155.0" stroke="#1A2240" stroke-width="3.6" stroke-opacity="0.62"/>
<line x1="322.6" y1="1974.3" x2="398.2" y2="2180.4" stroke="#1A2240" stroke-width="3.6" stroke-opacity="0.62"/>
<line x1="322.6" y1="1974.3" x2="534.3" y2="2177.9" stroke="#1A2240" stroke-width="3.6" stroke-opacity="0.62"/>
<line x1="322.6" y1="1974.3" x2="425.3" y2="2229.3" stroke="#1A2240" stroke-width="3.6" stroke-opacity="0.62"/>
<line x1="322.6" y1="1974.3" x2="494.7" y2="2240.5" stroke="#1A2240" stroke-width="3.6" stroke-opacity="0.62"/>
<line x1="404.1" y1="2001.1" x2="477.0" y2="2018.5" stroke="#1A2240" stroke-width="3.6" stroke-opacity="0.62"/>
<line x1="404.1" y1="2001.1" x2="553.0" y2="2004.4" stroke="#1A2240" stroke-width="3.6" stroke-opacity="0.62"/>
<line x1="404.1" y1="2001.1" x2="276.6" y2="2027.2" stroke="#1A2240" stroke-width="3.6" stroke-opacity="0.62"/>
<line x1="404.1" y1="2001.1" x2="361.8" y2="2054.0" stroke="#1A2240" stroke-width="3.6" stroke-opacity="0.62"/>
<line x1="404.1" y1="2001.1" x2="458.5" y2="2070.7" stroke="#1A2240" stroke-width="3.6" stroke-opacity="0.62"/>
<line x1="404.1" y1="2001.1" x2="550.9" y2="2074.8" stroke="#1A2240" stroke-width="3.6" stroke-opacity="0.62"/>
<line x1="404.1" y1="2001.1" x2="615.7" y2="2046.9" stroke="#1A2240" stroke-width="3.6" stroke-opacity="0.62"/>
<line x1="404.1" y1="2001.1" x2="264.3" y2="2115.2" stroke="#1A2240" stroke-width="3.6" stroke-opacity="0.62"/>
<line x1="404.1" y1="2001.1" x2="406.8" y2="2105.8" stroke="#1A2240" stroke-width="3.6" stroke-opacity="0.62"/>
<line x1="404.1" y1="2001.1" x2="348.6" y2="2140.4" stroke="#1A2240" stroke-width="3.6" stroke-opacity="0.62"/>
<line x1="404.1" y1="2001.1" x2="521.6" y2="2125.1" stroke="#1A2240" stroke-width="3.6" stroke-opacity="0.62"/>
<line x1="404.1" y1="2001.1" x2="628.0" y2="2111.0" stroke="#1A2240" stroke-width="3.6" stroke-opacity="0.62"/>
<line x1="404.1" y1="2001.1" x2="461.7" y2="2155.0" stroke="#1A2240" stroke-width="3.6" stroke-opacity="0.62"/>
<line x1="404.1" y1="2001.1" x2="398.2" y2="2180.4" stroke="#1A2240" stroke-width="3.6" stroke-opacity="0.62"/>
<line x1="404.1" y1="2001.1" x2="534.3" y2="2177.9" stroke="#1A2240" stroke-width="3.6" stroke-opacity="0.62"/>
<line x1="404.1" y1="2001.1" x2="425.3" y2="2229.3" stroke="#1A2240" stroke-width="3.6" stroke-opacity="0.62"/>
<line x1="404.1" y1="2001.1" x2="494.7" y2="2240.5" stroke="#1A2240" stroke-width="3.6" stroke-opacity="0.62"/>
<line x1="477.0" y1="2018.5" x2="553.0" y2="2004.4" stroke="#1A2240" stroke-width="3.6" stroke-opacity="0.62"/>
<line x1="477.0" y1="2018.5" x2="276.6" y2="2027.2" stroke="#1A2240" stroke-width="3.6" stroke-opacity="0.62"/>
<line x1="477.0" y1="2018.5" x2="361.8" y2="2054.0" stroke="#1A2240" stroke-width="3.6" stroke-opacity="0.62"/>
<line x1="477.0" y1="2018.5" x2="458.5" y2="2070.7" stroke="#1A2240" stroke-width="3.6" stroke-opacity="0.62"/>
<line x1="477.0" y1="2018.5" x2="550.9" y2="2074.8" stroke="#1A2240" stroke-width="3.6" stroke-opacity="0.62"/>
<line x1="477.0" y1="2018.5" x2="615.7" y2="2046.9" stroke="#1A2240" stroke-width="3.6" stroke-opacity="0.62"/>
<line x1="477.0" y1="2018.5" x2="264.3" y2="2115.2" stroke="#1A2240" stroke-width="3.6" stroke-opacity="0.62"/>
<line x1="477.0" y1="2018.5" x2="406.8" y2="2105.8" stroke="#1A2240" stroke-width="3.6" stroke-opacity="0.62"/>
<line x1="477.0" y1="2018.5" x2="348.6" y2="2140.4" stroke="#1A2240" stroke-width="3.6" stroke-opacity="0.62"/>
<line x1="477.0" y1="2018.5" x2="521.6" y2="2125.1" stroke="#1A2240" stroke-width="3.6" stroke-opacity="0.62"/>
<line x1="477.0" y1="2018.5" x2="628.0" y2="2111.0" stroke="#1A2240" stroke-width="3.6" stroke-opacity="0.62"/>
<line x1="477.0" y1="2018.5" x2="461.7" y2="2155.0" stroke="#1A2240" stroke-width="3.6" stroke-opacity="0.62"/>
<line x1="477.0" y1="2018.5" x2="398.2" y2="2180.4" stroke="#1A2240" stroke-width="3.6" stroke-opacity="0.62"/>
<line x1="477.0" y1="2018.5" x2="534.3" y2="2177.9" stroke="#1A2240" stroke-width="3.6" stroke-opacity="0.62"/>
<line x1="477.0" y1="2018.5" x2="425.3" y2="2229.3" stroke="#1A2240" stroke-width="3.6" stroke-opacity="0.62"/>
<line x1="477.0" y1="2018.5" x2="494.7" y2="2240.5" stroke="#1A2240" stroke-width="3.6" stroke-opacity="0.62"/>
<line x1="553.0" y1="2004.4" x2="276.6" y2="2027.2" stroke="#1A2240" stroke-width="3.6" stroke-opacity="0.62"/>
<line x1="553.0" y1="2004.4" x2="361.8" y2="2054.0" stroke="#1A2240" stroke-width="3.6" stroke-opacity="0.62"/>
<line x1="553.0" y1="2004.4" x2="458.5" y2="2070.7" stroke="#1A2240" stroke-width="3.6" stroke-opacity="0.62"/>
<line x1="553.0" y1="2004.4" x2="550.9" y2="2074.8" stroke="#1A2240" stroke-width="3.6" stroke-opacity="0.62"/>
<line x1="553.0" y1="2004.4" x2="615.7" y2="2046.9" stroke="#1A2240" stroke-width="3.6" stroke-opacity="0.62"/>
<line x1="553.0" y1="2004.4" x2="264.3" y2="2115.2" stroke="#1A2240" stroke-width="3.6" stroke-opacity="0.62"/>
<line x1="553.0" y1="2004.4" x2="406.8" y2="2105.8" stroke="#1A2240" stroke-width="3.6" stroke-opacity="0.62"/>
<line x1="553.0" y1="2004.4" x2="348.6" y2="2140.4" stroke="#1A2240" stroke-width="3.6" stroke-opacity="0.62"/>
<line x1="553.0" y1="2004.4" x2="521.6" y2="2125.1" stroke="#1A2240" stroke-width="3.6" stroke-opacity="0.62"/>
<line x1="553.0" y1="2004.4" x2="628.0" y2="2111.0" stroke="#1A2240" stroke-width="3.6" stroke-opacity="0.62"/>
<line x1="553.0" y1="2004.4" x2="461.7" y2="2155.0" stroke="#1A2240" stroke-width="3.6" stroke-opacity="0.62"/>
<line x1="553.0" y1="2004.4" x2="398.2" y2="2180.4" stroke="#1A2240" stroke-width="3.6" stroke-opacity="0.62"/>
<line x1="553.0" y1="2004.4" x2="534.3" y2="2177.9" stroke="#1A2240" stroke-width="3.6" stroke-opacity="0.62"/>
<line x1="553.0" y1="2004.4" x2="425.3" y2="2229.3" stroke="#1A2240" stroke-width="3.6" stroke-opacity="0.62"/>
<line x1="553.0" y1="2004.4" x2="494.7" y2="2240.5" stroke="#1A2240" stroke-width="3.6" stroke-opacity="0.62"/>
<line x1="276.6" y1="2027.2" x2="361.8" y2="2054.0" stroke="#1A2240" stroke-width="3.6" stroke-opacity="0.62"/>
<line x1="276.6" y1="2027.2" x2="458.5" y2="2070.7" stroke="#1A2240" stroke-width="3.6" stroke-opacity="0.62"/>
<line x1="276.6" y1="2027.2" x2="550.9" y2="2074.8" stroke="#1A2240" stroke-width="3.6" stroke-opacity="0.62"/>
<line x1="276.6" y1="2027.2" x2="615.7" y2="2046.9" stroke="#1A2240" stroke-width="3.6" stroke-opacity="0.62"/>
<line x1="276.6" y1="2027.2" x2="264.3" y2="2115.2" stroke="#1A2240" stroke-width="3.6" stroke-opacity="0.62"/>
<line x1="276.6" y1="2027.2" x2="406.8" y2="2105.8" stroke="#1A2240" stroke-width="3.6" stroke-opacity="0.62"/>
<line x1="276.6" y1="2027.2" x2="348.6" y2="2140.4" stroke="#1A2240" stroke-width="3.6" stroke-opacity="0.62"/>
<line x1="276.6" y1="2027.2" x2="521.6" y2="2125.1" stroke="#1A2240" stroke-width="3.6" stroke-opacity="0.62"/>
<line x1="276.6" y1="2027.2" x2="628.0" y2="2111.0" stroke="#1A2240" stroke-width="3.6" stroke-opacity="0.62"/>
<line x1="276.6" y1="2027.2" x2="461.7" y2="2155.0" stroke="#1A2240" stroke-width="3.6" stroke-opacity="0.62"/>
<line x1="276.6" y1="2027.2" x2="398.2" y2="2180.4" stroke="#1A2240" stroke-width="3.6" stroke-opacity="0.62"/>
<line x1="276.6" y1="2027.2" x2="534.3" y2="2177.9" stroke="#1A2240" stroke-width="3.6" stroke-opacity="0.62"/>
<line x1="276.6" y1="2027.2" x2="425.3" y2="2229.3" stroke="#1A2240" stroke-width="3.6" stroke-opacity="0.62"/>
<line x1="276.6" y1="2027.2" x2="494.7" y2="2240.5" stroke="#1A2240" stroke-width="3.6" stroke-opacity="0.62"/>
<line x1="361.8" y1="2054.0" x2="458.5" y2="2070.7" stroke="#1A2240" stroke-width="3.6" stroke-opacity="0.62"/>
<line x1="361.8" y1="2054.0" x2="550.9" y2="2074.8" stroke="#1A2240" stroke-width="3.6" stroke-opacity="0.62"/>
<line x1="361.8" y1="2054.0" x2="615.7" y2="2046.9" stroke="#1A2240" stroke-width="3.6" stroke-opacity="0.62"/>
<line x1="361.8" y1="2054.0" x2="264.3" y2="2115.2" stroke="#1A2240" stroke-width="3.6" stroke-opacity="0.62"/>
<line x1="361.8" y1="2054.0" x2="406.8" y2="2105.8" stroke="#1A2240" stroke-width="3.6" stroke-opacity="0.62"/>
<line x1="361.8" y1="2054.0" x2="348.6" y2="2140.4" stroke="#1A2240" stroke-width="3.6" stroke-opacity="0.62"/>
<line x1="361.8" y1="2054.0" x2="521.6" y2="2125.1" stroke="#1A2240" stroke-width="3.6" stroke-opacity="0.62"/>
<line x1="361.8" y1="2054.0" x2="628.0" y2="2111.0" stroke="#1A2240" stroke-width="3.6" stroke-opacity="0.62"/>
<line x1="361.8" y1="2054.0" x2="461.7" y2="2155.0" stroke="#1A2240" stroke-width="3.6" stroke-opacity="0.62"/>
<line x1="361.8" y1="2054.0" x2="398.2" y2="2180.4" stroke="#1A2240" stroke-width="3.6" stroke-opacity="0.62"/>
<line x1="361.8" y1="2054.0" x2="534.3" y2="2177.9" stroke="#1A2240" stroke-width="3.6" stroke-opacity="0.62"/>
<line x1="361.8" y1="2054.0" x2="425.3" y2="2229.3" stroke="#1A2240" stroke-width="3.6" stroke-opacity="0.62"/>
<line x1="361.8" y1="2054.0" x2="494.7" y2="2240.5" stroke="#1A2240" stroke-width="3.6" stroke-opacity="0.62"/>
<line x1="458.5" y1="2070.7" x2="550.9" y2="2074.8" stroke="#1A2240" stroke-width="3.6" stroke-opacity="0.62"/>
<line x1="458.5" y1="2070.7" x2="615.7" y2="2046.9" stroke="#1A2240" stroke-width="3.6" stroke-opacity="0.62"/>
<line x1="458.5" y1="2070.7" x2="264.3" y2="2115.2" stroke="#1A2240" stroke-width="3.6" stroke-opacity="0.62"/>
<line x1="458.5" y1="2070.7" x2="406.8" y2="2105.8" stroke="#1A2240" stroke-width="3.6" stroke-opacity="0.62"/>
<line x1="458.5" y1="2070.7" x2="348.6" y2="2140.4" stroke="#1A2240" stroke-width="3.6" stroke-opacity="0.62"/>
<line x1="458.5" y1="2070.7" x2="521.6" y2="2125.1" stroke="#1A2240" stroke-width="3.6" stroke-opacity="0.62"/>
<line x1="458.5" y1="2070.7" x2="628.0" y2="2111.0" stroke="#1A2240" stroke-width="3.6" stroke-opacity="0.62"/>
<line x1="458.5" y1="2070.7" x2="461.7" y2="2155.0" stroke="#1A2240" stroke-width="3.6" stroke-opacity="0.62"/>
<line x1="458.5" y1="2070.7" x2="398.2" y2="2180.4" stroke="#1A2240" stroke-width="3.6" stroke-opacity="0.62"/>
<line x1="458.5" y1="2070.7" x2="534.3" y2="2177.9" stroke="#1A2240" stroke-width="3.6" stroke-opacity="0.62"/>
<line x1="458.5" y1="2070.7" x2="425.3" y2="2229.3" stroke="#1A2240" stroke-width="3.6" stroke-opacity="0.62"/>
<line x1="458.5" y1="2070.7" x2="494.7" y2="2240.5" stroke="#1A2240" stroke-width="3.6" stroke-opacity="0.62"/>
<line x1="550.9" y1="2074.8" x2="615.7" y2="2046.9" stroke="#1A2240" stroke-width="3.6" stroke-opacity="0.62"/>
<line x1="550.9" y1="2074.8" x2="264.3" y2="2115.2" stroke="#1A2240" stroke-width="3.6" stroke-opacity="0.62"/>
<line x1="550.9" y1="2074.8" x2="406.8" y2="2105.8" stroke="#1A2240" stroke-width="3.6" stroke-opacity="0.62"/>
<line x1="550.9" y1="2074.8" x2="348.6" y2="2140.4" stroke="#1A2240" stroke-width="3.6" stroke-opacity="0.62"/>
<line x1="550.9" y1="2074.8" x2="521.6" y2="2125.1" stroke="#1A2240" stroke-width="3.6" stroke-opacity="0.62"/>
<line x1="550.9" y1="2074.8" x2="628.0" y2="2111.0" stroke="#1A2240" stroke-width="3.6" stroke-opacity="0.62"/>
<line x1="550.9" y1="2074.8" x2="461.7" y2="2155.0" stroke="#1A2240" stroke-width="3.6" stroke-opacity="0.62"/>
<line x1="550.9" y1="2074.8" x2="398.2" y2="2180.4" stroke="#1A2240" stroke-width="3.6" stroke-opacity="0.62"/>
<line x1="550.9" y1="2074.8" x2="534.3" y2="2177.9" stroke="#1A2240" stroke-width="3.6" stroke-opacity="0.62"/>
<line x1="550.9" y1="2074.8" x2="425.3" y2="2229.3" stroke="#1A2240" stroke-width="3.6" stroke-opacity="0.62"/>
<line x1="550.9" y1="2074.8" x2="494.7" y2="2240.5" stroke="#1A2240" stroke-width="3.6" stroke-opacity="0.62"/>
<line x1="615.7" y1="2046.9" x2="264.3" y2="2115.2" stroke="#1A2240" stroke-width="3.6" stroke-opacity="0.62"/>
<line x1="615.7" y1="2046.9" x2="406.8" y2="2105.8" stroke="#1A2240" stroke-width="3.6" stroke-opacity="0.62"/>
<line x1="615.7" y1="2046.9" x2="348.6" y2="2140.4" stroke="#1A2240" stroke-width="3.6" stroke-opacity="0.62"/>
<line x1="615.7" y1="2046.9" x2="521.6" y2="2125.1" stroke="#1A2240" stroke-width="3.6" stroke-opacity="0.62"/>
<line x1="615.7" y1="2046.9" x2="628.0" y2="2111.0" stroke="#1A2240" stroke-width="3.6" stroke-opacity="0.62"/>
<line x1="615.7" y1="2046.9" x2="461.7" y2="2155.0" stroke="#1A2240" stroke-width="3.6" stroke-opacity="0.62"/>
<line x1="615.7" y1="2046.9" x2="398.2" y2="2180.4" stroke="#1A2240" stroke-width="3.6" stroke-opacity="0.62"/>
<line x1="615.7" y1="2046.9" x2="534.3" y2="2177.9" stroke="#1A2240" stroke-width="3.6" stroke-opacity="0.62"/>
<line x1="615.7" y1="2046.9" x2="425.3" y2="2229.3" stroke="#1A2240" stroke-width="3.6" stroke-opacity="0.62"/>
<line x1="615.7" y1="2046.9" x2="494.7" y2="2240.5" stroke="#1A2240" stroke-width="3.6" stroke-opacity="0.62"/>
<line x1="264.3" y1="2115.2" x2="406.8" y2="2105.8" stroke="#1A2240" stroke-width="3.6" stroke-opacity="0.62"/>
<line x1="264.3" y1="2115.2" x2="348.6" y2="2140.4" stroke="#1A2240" stroke-width="3.6" stroke-opacity="0.62"/>
<line x1="264.3" y1="2115.2" x2="521.6" y2="2125.1" stroke="#1A2240" stroke-width="3.6" stroke-opacity="0.62"/>
<line x1="264.3" y1="2115.2" x2="628.0" y2="2111.0" stroke="#1A2240" stroke-width="3.6" stroke-opacity="0.62"/>
<line x1="264.3" y1="2115.2" x2="461.7" y2="2155.0" stroke="#1A2240" stroke-width="3.6" stroke-opacity="0.62"/>
<line x1="264.3" y1="2115.2" x2="398.2" y2="2180.4" stroke="#1A2240" stroke-width="3.6" stroke-opacity="0.62"/>
<line x1="264.3" y1="2115.2" x2="534.3" y2="2177.9" stroke="#1A2240" stroke-width="3.6" stroke-opacity="0.62"/>
<line x1="264.3" y1="2115.2" x2="425.3" y2="2229.3" stroke="#1A2240" stroke-width="3.6" stroke-opacity="0.62"/>
<line x1="264.3" y1="2115.2" x2="494.7" y2="2240.5" stroke="#1A2240" stroke-width="3.6" stroke-opacity="0.62"/>
<line x1="406.8" y1="2105.8" x2="348.6" y2="2140.4" stroke="#1A2240" stroke-width="3.6" stroke-opacity="0.62"/>
<line x1="406.8" y1="2105.8" x2="521.6" y2="2125.1" stroke="#1A2240" stroke-width="3.6" stroke-opacity="0.62"/>
<line x1="406.8" y1="2105.8" x2="628.0" y2="2111.0" stroke="#1A2240" stroke-width="3.6" stroke-opacity="0.62"/>
<line x1="406.8" y1="2105.8" x2="461.7" y2="2155.0" stroke="#1A2240" stroke-width="3.6" stroke-opacity="0.62"/>
<line x1="406.8" y1="2105.8" x2="398.2" y2="2180.4" stroke="#1A2240" stroke-width="3.6" stroke-opacity="0.62"/>
<line x1="406.8" y1="2105.8" x2="534.3" y2="2177.9" stroke="#1A2240" stroke-width="3.6" stroke-opacity="0.62"/>
<line x1="406.8" y1="2105.8" x2="425.3" y2="2229.3" stroke="#1A2240" stroke-width="3.6" stroke-opacity="0.62"/>
<line x1="406.8" y1="2105.8" x2="494.7" y2="2240.5" stroke="#1A2240" stroke-width="3.6" stroke-opacity="0.62"/>
<line x1="348.6" y1="2140.4" x2="521.6" y2="2125.1" stroke="#1A2240" stroke-width="3.6" stroke-opacity="0.62"/>
<line x1="348.6" y1="2140.4" x2="628.0" y2="2111.0" stroke="#1A2240" stroke-width="3.6" stroke-opacity="0.62"/>
<line x1="348.6" y1="2140.4" x2="461.7" y2="2155.0" stroke="#1A2240" stroke-width="3.6" stroke-opacity="0.62"/>
<line x1="348.6" y1="2140.4" x2="398.2" y2="2180.4" stroke="#1A2240" stroke-width="3.6" stroke-opacity="0.62"/>
<line x1="348.6" y1="2140.4" x2="534.3" y2="2177.9" stroke="#1A2240" stroke-width="3.6" stroke-opacity="0.62"/>
<line x1="348.6" y1="2140.4" x2="425.3" y2="2229.3" stroke="#1A2240" stroke-width="3.6" stroke-opacity="0.62"/>
<line x1="348.6" y1="2140.4" x2="494.7" y2="2240.5" stroke="#1A2240" stroke-width="3.6" stroke-opacity="0.62"/>
<line x1="521.6" y1="2125.1" x2="628.0" y2="2111.0" stroke="#1A2240" stroke-width="3.6" stroke-opacity="0.62"/>
<line x1="521.6" y1="2125.1" x2="461.7" y2="2155.0" stroke="#1A2240" stroke-width="3.6" stroke-opacity="0.62"/>
<line x1="521.6" y1="2125.1" x2="398.2" y2="2180.4" stroke="#1A2240" stroke-width="3.6" stroke-opacity="0.62"/>
<line x1="521.6" y1="2125.1" x2="534.3" y2="2177.9" stroke="#1A2240" stroke-width="3.6" stroke-opacity="0.62"/>
<line x1="521.6" y1="2125.1" x2="425.3" y2="2229.3" stroke="#1A2240" stroke-width="3.6" stroke-opacity="0.62"/>
<line x1="521.6" y1="2125.1" x2="494.7" y2="2240.5" stroke="#1A2240" stroke-width="3.6" stroke-opacity="0.62"/>
<line x1="628.0" y1="2111.0" x2="461.7" y2="2155.0" stroke="#1A2240" stroke-width="3.6" stroke-opacity="0.62"/>
<line x1="628.0" y1="2111.0" x2="398.2" y2="2180.4" stroke="#1A2240" stroke-width="3.6" stroke-opacity="0.62"/>
<line x1="628.0" y1="2111.0" x2="534.3" y2="2177.9" stroke="#1A2240" stroke-width="3.6" stroke-opacity="0.62"/>
<line x1="628.0" y1="2111.0" x2="425.3" y2="2229.3" stroke="#1A2240" stroke-width="3.6" stroke-opacity="0.62"/>
<line x1="628.0" y1="2111.0" x2="494.7" y2="2240.5" stroke="#1A2240" stroke-width="3.6" stroke-opacity="0.62"/>
<line x1="461.7" y1="2155.0" x2="398.2" y2="2180.4" stroke="#1A2240" stroke-width="3.6" stroke-opacity="0.62"/>
<line x1="461.7" y1="2155.0" x2="534.3" y2="2177.9" stroke="#1A2240" stroke-width="3.6" stroke-opacity="0.62"/>
<line x1="461.7" y1="2155.0" x2="425.3" y2="2229.3" stroke="#1A2240" stroke-width="3.6" stroke-opacity="0.62"/>
<line x1="461.7" y1="2155.0" x2="494.7" y2="2240.5" stroke="#1A2240" stroke-width="3.6" stroke-opacity="0.62"/>
<line x1="398.2" y1="2180.4" x2="534.3" y2="2177.9" stroke="#1A2240" stroke-width="3.6" stroke-opacity="0.62"/>
<line x1="398.2" y1="2180.4" x2="425.3" y2="2229.3" stroke="#1A2240" stroke-width="3.6" stroke-opacity="0.62"/>
<line x1="398.2" y1="2180.4" x2="494.7" y2="2240.5" stroke="#1A2240" stroke-width="3.6" stroke-opacity="0.62"/>
<line x1="534.3" y1="2177.9" x2="425.3" y2="2229.3" stroke="#1A2240" stroke-width="3.6" stroke-opacity="0.62"/>
<line x1="534.3" y1="2177.9" x2="494.7" y2="2240.5" stroke="#1A2240" stroke-width="3.6" stroke-opacity="0.62"/>
<line x1="425.3" y1="2229.3" x2="494.7" y2="2240.5" stroke="#1A2240" stroke-width="3.6" stroke-opacity="0.62"/>
<line x1="175.6" y1="1947.3" x2="381.1" y2="1928.5" stroke="#1A2240" stroke-width="3.2" stroke-opacity="0.62"/>
<line x1="255.6" y1="2266.4" x2="381.1" y2="1928.5" stroke="#1A2240" stroke-width="3.2" stroke-opacity="0.62"/>
<line x1="175.6" y1="1947.3" x2="473.0" y2="1958.0" stroke="#1A2240" stroke-width="3.2" stroke-opacity="0.62"/>
<line x1="255.6" y1="2266.4" x2="473.0" y2="1958.0" stroke="#1A2240" stroke-width="3.2" stroke-opacity="0.62"/>
<line x1="175.6" y1="1947.3" x2="539.9" y2="1942.2" stroke="#1A2240" stroke-width="3.2" stroke-opacity="0.62"/>
<line x1="255.6" y1="2266.4" x2="539.9" y2="1942.2" stroke="#1A2240" stroke-width="3.2" stroke-opacity="0.62"/>
<line x1="175.6" y1="1947.3" x2="322.6" y2="1974.3" stroke="#1A2240" stroke-width="3.2" stroke-opacity="0.62"/>
<line x1="255.6" y1="2266.4" x2="322.6" y2="1974.3" stroke="#1A2240" stroke-width="3.2" stroke-opacity="0.62"/>
<line x1="175.6" y1="1947.3" x2="404.1" y2="2001.1" stroke="#1A2240" stroke-width="3.2" stroke-opacity="0.62"/>
<line x1="255.6" y1="2266.4" x2="404.1" y2="2001.1" stroke="#1A2240" stroke-width="3.2" stroke-opacity="0.62"/>
<line x1="175.6" y1="1947.3" x2="477.0" y2="2018.5" stroke="#1A2240" stroke-width="3.2" stroke-opacity="0.62"/>
<line x1="255.6" y1="2266.4" x2="477.0" y2="2018.5" stroke="#1A2240" stroke-width="3.2" stroke-opacity="0.62"/>
<line x1="175.6" y1="1947.3" x2="553.0" y2="2004.4" stroke="#1A2240" stroke-width="3.2" stroke-opacity="0.62"/>
<line x1="255.6" y1="2266.4" x2="553.0" y2="2004.4" stroke="#1A2240" stroke-width="3.2" stroke-opacity="0.62"/>
<line x1="175.6" y1="1947.3" x2="276.6" y2="2027.2" stroke="#1A2240" stroke-width="3.2" stroke-opacity="0.62"/>
<line x1="255.6" y1="2266.4" x2="276.6" y2="2027.2" stroke="#1A2240" stroke-width="3.2" stroke-opacity="0.62"/>
<line x1="175.6" y1="1947.3" x2="361.8" y2="2054.0" stroke="#1A2240" stroke-width="3.2" stroke-opacity="0.62"/>
<line x1="255.6" y1="2266.4" x2="361.8" y2="2054.0" stroke="#1A2240" stroke-width="3.2" stroke-opacity="0.62"/>
<line x1="175.6" y1="1947.3" x2="458.5" y2="2070.7" stroke="#1A2240" stroke-width="3.2" stroke-opacity="0.62"/>
<line x1="255.6" y1="2266.4" x2="458.5" y2="2070.7" stroke="#1A2240" stroke-width="3.2" stroke-opacity="0.62"/>
<line x1="175.6" y1="1947.3" x2="550.9" y2="2074.8" stroke="#1A2240" stroke-width="3.2" stroke-opacity="0.62"/>
<line x1="255.6" y1="2266.4" x2="550.9" y2="2074.8" stroke="#1A2240" stroke-width="3.2" stroke-opacity="0.62"/>
<line x1="175.6" y1="1947.3" x2="615.7" y2="2046.9" stroke="#1A2240" stroke-width="3.2" stroke-opacity="0.62"/>
<line x1="255.6" y1="2266.4" x2="615.7" y2="2046.9" stroke="#1A2240" stroke-width="3.2" stroke-opacity="0.62"/>
<line x1="175.6" y1="1947.3" x2="264.3" y2="2115.2" stroke="#1A2240" stroke-width="3.2" stroke-opacity="0.62"/>
<line x1="255.6" y1="2266.4" x2="264.3" y2="2115.2" stroke="#1A2240" stroke-width="3.2" stroke-opacity="0.62"/>
<line x1="175.6" y1="1947.3" x2="406.8" y2="2105.8" stroke="#1A2240" stroke-width="3.2" stroke-opacity="0.62"/>
<line x1="255.6" y1="2266.4" x2="406.8" y2="2105.8" stroke="#1A2240" stroke-width="3.2" stroke-opacity="0.62"/>
<line x1="175.6" y1="1947.3" x2="348.6" y2="2140.4" stroke="#1A2240" stroke-width="3.2" stroke-opacity="0.62"/>
<line x1="255.6" y1="2266.4" x2="348.6" y2="2140.4" stroke="#1A2240" stroke-width="3.2" stroke-opacity="0.62"/>
<line x1="175.6" y1="1947.3" x2="521.6" y2="2125.1" stroke="#1A2240" stroke-width="3.2" stroke-opacity="0.62"/>
<line x1="255.6" y1="2266.4" x2="521.6" y2="2125.1" stroke="#1A2240" stroke-width="3.2" stroke-opacity="0.62"/>
<line x1="175.6" y1="1947.3" x2="628.0" y2="2111.0" stroke="#1A2240" stroke-width="3.2" stroke-opacity="0.62"/>
<line x1="255.6" y1="2266.4" x2="628.0" y2="2111.0" stroke="#1A2240" stroke-width="3.2" stroke-opacity="0.62"/>
<line x1="175.6" y1="1947.3" x2="461.7" y2="2155.0" stroke="#1A2240" stroke-width="3.2" stroke-opacity="0.62"/>
<line x1="255.6" y1="2266.4" x2="461.7" y2="2155.0" stroke="#1A2240" stroke-width="3.2" stroke-opacity="0.62"/>
<line x1="175.6" y1="1947.3" x2="398.2" y2="2180.4" stroke="#1A2240" stroke-width="3.2" stroke-opacity="0.62"/>
<line x1="255.6" y1="2266.4" x2="398.2" y2="2180.4" stroke="#1A2240" stroke-width="3.2" stroke-opacity="0.62"/>
<line x1="175.6" y1="1947.3" x2="534.3" y2="2177.9" stroke="#1A2240" stroke-width="3.2" stroke-opacity="0.62"/>
<line x1="255.6" y1="2266.4" x2="534.3" y2="2177.9" stroke="#1A2240" stroke-width="3.2" stroke-opacity="0.62"/>
<line x1="175.6" y1="1947.3" x2="425.3" y2="2229.3" stroke="#1A2240" stroke-width="3.2" stroke-opacity="0.62"/>
<line x1="255.6" y1="2266.4" x2="425.3" y2="2229.3" stroke="#1A2240" stroke-width="3.2" stroke-opacity="0.62"/>
<line x1="175.6" y1="1947.3" x2="494.7" y2="2240.5" stroke="#1A2240" stroke-width="3.2" stroke-opacity="0.62"/>
<line x1="255.6" y1="2266.4" x2="494.7" y2="2240.5" stroke="#1A2240" stroke-width="3.2" stroke-opacity="0.62"/>
<line x1="579.5" y1="1810.9" x2="404.1" y2="2001.1" stroke="#1E2A48" stroke-width="2.8" stroke-opacity="0.72"/>
<line x1="579.5" y1="1810.9" x2="361.8" y2="2054.0" stroke="#1E2A48" stroke-width="2.8" stroke-opacity="0.72"/>
<line x1="579.5" y1="1810.9" x2="473.0" y2="1958.0" stroke="#1E2A48" stroke-width="2.8" stroke-opacity="0.72"/>
<line x1="579.5" y1="1810.9" x2="406.8" y2="2105.8" stroke="#1E2A48" stroke-width="2.8" stroke-opacity="0.72"/>
<line x1="579.5" y1="1810.9" x2="477.0" y2="2018.5" stroke="#1E2A48" stroke-width="2.8" stroke-opacity="0.72"/>
<line x1="579.5" y1="1810.9" x2="458.5" y2="2070.7" stroke="#1E2A48" stroke-width="2.8" stroke-opacity="0.72"/>
<line x1="579.5" y1="1810.9" x2="539.9" y2="1942.2" stroke="#1E2A48" stroke-width="2.8" stroke-opacity="0.72"/>
<line x1="579.5" y1="1810.9" x2="553.0" y2="2004.4" stroke="#1E2A48" stroke-width="2.8" stroke-opacity="0.72"/>
<line x1="579.5" y1="1810.9" x2="550.9" y2="2074.8" stroke="#1E2A48" stroke-width="2.8" stroke-opacity="0.72"/>
<line x1="579.5" y1="1810.9" x2="615.7" y2="2046.9" stroke="#1E2A48" stroke-width="2.8" stroke-opacity="0.72"/>
<line x1="579.5" y1="1810.9" x2="521.6" y2="2125.1" stroke="#1E2A48" stroke-width="2.8" stroke-opacity="0.72"/>
<line x1="579.5" y1="1810.9" x2="461.7" y2="2155.0" stroke="#1E2A48" stroke-width="2.8" stroke-opacity="0.72"/>
<line x1="579.5" y1="1810.9" x2="348.6" y2="2140.4" stroke="#1E2A48" stroke-width="2.8" stroke-opacity="0.72"/>
<line x1="579.5" y1="1810.9" x2="773.6" y2="2078.4" stroke="#3A4A62" stroke-width="2.6" stroke-opacity="0.7"/>
<line x1="579.5" y1="1810.9" x2="715.2" y2="1894.3" stroke="#3A4A62" stroke-width="3.2" stroke-opacity="0.75"/>
<line x1="579.5" y1="1810.9" x2="566.1" y2="1728.6" stroke="#3A5068" stroke-width="3.5" stroke-opacity="0.8"/>
<line x1="464.3" y1="1819.5" x2="404.1" y2="2001.1" stroke="#2A3A58" stroke-width="2.6" stroke-opacity="0.7"/>
<line x1="464.3" y1="1819.5" x2="473.0" y2="1958.0" stroke="#2A3A58" stroke-width="2.6" stroke-opacity="0.7"/>
<line x1="680.3" y1="2208.4" x2="553.0" y2="2004.4" stroke="#1E2A48" stroke-width="2.2" stroke-opacity="0.6"/>
<line x1="680.3" y1="2208.4" x2="615.7" y2="2046.9" stroke="#1E2A48" stroke-width="2.2" stroke-opacity="0.6"/>
<line x1="680.3" y1="2208.4" x2="550.9" y2="2074.8" stroke="#1E2A48" stroke-width="2.2" stroke-opacity="0.6"/>
<line x1="680.3" y1="2208.4" x2="628.0" y2="2111.0" stroke="#1E2A48" stroke-width="2.2" stroke-opacity="0.6"/>
<line x1="680.3" y1="2208.4" x2="521.6" y2="2125.1" stroke="#1E2A48" stroke-width="2.2" stroke-opacity="0.6"/>
<line x1="680.3" y1="2208.4" x2="534.3" y2="2177.9" stroke="#1E2A48" stroke-width="2.2" stroke-opacity="0.6"/>
<line x1="680.3" y1="2208.4" x2="494.7" y2="2240.5" stroke="#1E2A48" stroke-width="2.2" stroke-opacity="0.6"/>
<line x1="680.3" y1="2208.4" x2="425.3" y2="2229.3" stroke="#1E2A48" stroke-width="2.2" stroke-opacity="0.6"/>
<line x1="680.3" y1="2208.4" x2="398.2" y2="2180.4" stroke="#1E2A48" stroke-width="2.2" stroke-opacity="0.6"/>
<line x1="680.3" y1="2208.4" x2="461.7" y2="2155.0" stroke="#1E2A48" stroke-width="2.2" stroke-opacity="0.6"/>
<line x1="680.3" y1="2208.4" x2="406.8" y2="2105.8" stroke="#1E2A48" stroke-width="2.2" stroke-opacity="0.6"/>
<line x1="680.3" y1="2208.4" x2="458.5" y2="2070.7" stroke="#1E2A48" stroke-width="2.2" stroke-opacity="0.6"/>
<line x1="680.3" y1="2208.4" x2="361.8" y2="2054.0" stroke="#1E2A48" stroke-width="2.2" stroke-opacity="0.6"/>
<line x1="680.3" y1="2208.4" x2="477.0" y2="2018.5" stroke="#1E2A48" stroke-width="2.2" stroke-opacity="0.6"/>
<line x1="680.3" y1="2208.4" x2="539.9" y2="1942.2" stroke="#1E2A48" stroke-width="2.2" stroke-opacity="0.6"/>
<line x1="680.3" y1="2208.4" x2="473.0" y2="1958.0" stroke="#1E2A48" stroke-width="2.2" stroke-opacity="0.6"/>
<line x1="629.4" y1="2258.7" x2="553.0" y2="2004.4" stroke="#1E2A48" stroke-width="2.2" stroke-opacity="0.6"/>
<line x1="629.4" y1="2258.7" x2="615.7" y2="2046.9" stroke="#1E2A48" stroke-width="2.2" stroke-opacity="0.6"/>
<line x1="629.4" y1="2258.7" x2="550.9" y2="2074.8" stroke="#1E2A48" stroke-width="2.2" stroke-opacity="0.6"/>
<line x1="629.4" y1="2258.7" x2="628.0" y2="2111.0" stroke="#1E2A48" stroke-width="2.2" stroke-opacity="0.6"/>
<line x1="629.4" y1="2258.7" x2="521.6" y2="2125.1" stroke="#1E2A48" stroke-width="2.2" stroke-opacity="0.6"/>
<line x1="629.4" y1="2258.7" x2="534.3" y2="2177.9" stroke="#1E2A48" stroke-width="2.2" stroke-opacity="0.6"/>
<line x1="629.4" y1="2258.7" x2="494.7" y2="2240.5" stroke="#1E2A48" stroke-width="2.2" stroke-opacity="0.6"/>
<line x1="629.4" y1="2258.7" x2="425.3" y2="2229.3" stroke="#1E2A48" stroke-width="2.2" stroke-opacity="0.6"/>
<line x1="629.4" y1="2258.7" x2="398.2" y2="2180.4" stroke="#1E2A48" stroke-width="2.2" stroke-opacity="0.6"/>
<line x1="629.4" y1="2258.7" x2="461.7" y2="2155.0" stroke="#1E2A48" stroke-width="2.2" stroke-opacity="0.6"/>
<line x1="629.4" y1="2258.7" x2="406.8" y2="2105.8" stroke="#1E2A48" stroke-width="2.2" stroke-opacity="0.6"/>
<line x1="629.4" y1="2258.7" x2="458.5" y2="2070.7" stroke="#1E2A48" stroke-width="2.2" stroke-opacity="0.6"/>
<line x1="629.4" y1="2258.7" x2="348.6" y2="2140.4" stroke="#1E2A48" stroke-width="2.2" stroke-opacity="0.6"/>
<line x1="629.4" y1="2258.7" x2="264.3" y2="2115.2" stroke="#1E2A48" stroke-width="2.2" stroke-opacity="0.6"/>
<line x1="629.4" y1="2258.7" x2="539.9" y2="1942.2" stroke="#1E2A48" stroke-width="2.2" stroke-opacity="0.6"/>
<line x1="680.3" y1="2208.4" x2="629.4" y2="2258.7" stroke="#3A4A62" stroke-width="3.0" stroke-opacity="0.7"/>
<line x1="680.3" y1="2208.4" x2="773.6" y2="2078.4" stroke="#3A4A62" stroke-width="2.4" stroke-opacity="0.7"/>
<line x1="629.4" y1="2258.7" x2="773.6" y2="2078.4" stroke="#3A4A62" stroke-width="2.4" stroke-opacity="0.7"/>
<line x1="773.6" y1="2078.4" x2="539.9" y2="1942.2" stroke="#2A3450" stroke-width="2.4" stroke-opacity="0.65"/>
<line x1="773.6" y1="2078.4" x2="473.0" y2="1958.0" stroke="#2A3450" stroke-width="2.4" stroke-opacity="0.65"/>
<line x1="773.6" y1="2078.4" x2="553.0" y2="2004.4" stroke="#2A3450" stroke-width="2.4" stroke-opacity="0.65"/>
<line x1="773.6" y1="2078.4" x2="615.7" y2="2046.9" stroke="#2A3450" stroke-width="2.4" stroke-opacity="0.65"/>
<line x1="773.6" y1="2078.4" x2="628.0" y2="2111.0" stroke="#2A3450" stroke-width="2.4" stroke-opacity="0.65"/>
<line x1="773.6" y1="2078.4" x2="521.6" y2="2125.1" stroke="#2A3450" stroke-width="2.4" stroke-opacity="0.65"/>
<line x1="389.2" y1="2341.0" x2="348.6" y2="2140.4" stroke="#3A4462" stroke-width="2.4" stroke-opacity="0.7"/>
<line x1="389.2" y1="2341.0" x2="425.3" y2="2229.3" stroke="#3A4462" stroke-width="2.4" stroke-opacity="0.7"/>
<line x1="389.2" y1="2341.0" x2="494.7" y2="2240.5" stroke="#3A4462" stroke-width="2.4" stroke-opacity="0.7"/>
<line x1="777.5" y1="1624.5" x2="494.7" y2="2240.5" stroke="#3A4A62" stroke-width="2.2" stroke-opacity="0.7"/>
<line x1="129.6" y1="1672.9" x2="127.0" y2="1759.3" stroke="#9099AA" stroke-width="3.0" stroke-opacity="1"/>
<line x1="255.8" y1="1664.6" x2="316.5" y2="1744.9" stroke="#6E7C90" stroke-width="3.6" stroke-opacity="1"/>
<line x1="546.5" y1="1632.1" x2="481.2" y2="1713.1" stroke="#5A7088" stroke-width="3.0" stroke-opacity="0.9"/>
<line x1="566.1" y1="1728.6" x2="656.4" y2="1715.8" stroke="#4A5A74" stroke-width="3.5" stroke-opacity="0.9"/>
<line x1="566.1" y1="1728.6" x2="718.7" y2="1547.2" stroke="#4A6078" stroke-width="3.0" stroke-opacity="0.9"/>
<line x1="656.4" y1="1715.8" x2="718.7" y2="1547.2" stroke="#4A6078" stroke-width="3.0" stroke-opacity="0.9"/>
<line x1="718.7" y1="1547.2" x2="854.5" y2="1575.9" stroke="#3C4868" stroke-width="3.5" stroke-opacity="0.9"/>
<line x1="777.5" y1="1624.5" x2="656.4" y2="1715.8" stroke="#343C5E" stroke-width="4.0" stroke-opacity="0.9"/>
<line x1="777.5" y1="1624.5" x2="873.4" y2="1690.5" stroke="#343C5E" stroke-width="4.0" stroke-opacity="0.9"/>
<line x1="777.5" y1="1624.5" x2="778.6" y2="1767.4" stroke="#343C5E" stroke-width="3.6" stroke-opacity="0.9"/>
<line x1="656.4" y1="1715.8" x2="873.4" y2="1690.5" stroke="#343C5E" stroke-width="4.0" stroke-opacity="0.9"/>
<line x1="656.4" y1="1715.8" x2="778.6" y2="1767.4" stroke="#343C5E" stroke-width="4.0" stroke-opacity="0.9"/>
<line x1="873.4" y1="1690.5" x2="778.6" y2="1767.4" stroke="#343C5E" stroke-width="4.0" stroke-opacity="0.9"/>
<line x1="1035.3" y1="1700.5" x2="987.0" y2="1788.2" stroke="#8890A0" stroke-width="2.8" stroke-opacity="1"/>
<line x1="888.7" y1="1877.1" x2="888.2" y2="1963.9" stroke="#4A6060" stroke-width="3.6" stroke-opacity="1"/>
<line x1="885.6" y1="2320.4" x2="987.2" y2="2345.8" stroke="#8890A0" stroke-width="2.8" stroke-opacity="1"/>
<line x1="987.2" y1="2345.8" x2="1052.8" y2="2290.3" stroke="#8890A0" stroke-width="2.8" stroke-opacity="1"/>
<line x1="123.4" y1="2183.6" x2="179.3" y2="2252.5" stroke="#1E2440" stroke-width="2.8" stroke-opacity="0.6"/>
<line x1="175.6" y1="1947.3" x2="264.3" y2="2115.2" stroke="#2A3050" stroke-width="2.6" stroke-opacity="0.75"/>
<ellipse cx="736.5" cy="1463.0" rx="35.3" ry="23.5" fill="#0A8FC3"/>
<ellipse cx="834.0" cy="1454.4" rx="35.3" ry="23.5" fill="#9ECFE3"/>
<ellipse cx="718.7" cy="1547.2" rx="35.3" ry="23.5" fill="#A6D2E5"/>
<ellipse cx="854.5" cy="1575.9" rx="35.3" ry="23.5" fill="#AAD4E6"/>
<ellipse cx="623.6" cy="1574.4" rx="35.3" ry="23.5" fill="#C3DFEB"/>
<ellipse cx="777.5" cy="1624.5" rx="35.3" ry="23.5" fill="#B2D7E7"/>
<ellipse cx="546.5" cy="1632.1" rx="35.3" ry="23.5" fill="#98CCE2"/>
<ellipse cx="873.4" cy="1690.5" rx="35.3" ry="23.5" fill="#AED6E6"/>
<ellipse cx="481.2" cy="1713.1" rx="35.3" ry="23.5" fill="#6DBAD8"/>
<ellipse cx="566.1" cy="1728.6" rx="35.3" ry="23.5" fill="#B4D8E8"/>
<ellipse cx="656.4" cy="1715.8" rx="35.3" ry="23.5" fill="#B0D6E6"/>
<ellipse cx="778.6" cy="1767.4" rx="35.3" ry="23.5" fill="#A0D0E4"/>
<ellipse cx="579.5" cy="1810.9" rx="35.3" ry="23.5" fill="#C0DDEA"/>
<ellipse cx="464.3" cy="1819.5" rx="35.3" ry="23.5" fill="#C0DDEA"/>
<ellipse cx="129.6" cy="1672.9" rx="35.3" ry="23.5" fill="#A0D0E4"/>
<ellipse cx="255.8" cy="1664.6" rx="35.3" ry="23.5" fill="#B0D8E8"/>
<ellipse cx="127.0" cy="1759.3" rx="35.3" ry="23.5" fill="#B4DAEA"/>
<ellipse cx="316.5" cy="1744.9" rx="35.3" ry="23.5" fill="#9ECFE3"/>
<ellipse cx="1035.3" cy="1700.5" rx="35.3" ry="23.5" fill="#F5958A"/>
<ellipse cx="987.0" cy="1788.2" rx="35.3" ry="23.5" fill="#F8B0A8"/>
<ellipse cx="888.7" cy="1877.1" rx="35.3" ry="23.5" fill="#F26252"/>
<ellipse cx="974.7" cy="1877.0" rx="35.3" ry="23.5" fill="#F5A89A"/>
<ellipse cx="888.2" cy="1963.9" rx="35.3" ry="23.5" fill="#F5A69C"/>
<ellipse cx="970.3" cy="1961.7" rx="35.3" ry="23.5" fill="#F4877A"/>
<ellipse cx="715.2" cy="1894.3" rx="35.3" ry="23.5" fill="#9ECFE3"/>
<ellipse cx="175.6" cy="1947.3" rx="35.3" ry="23.5" fill="#BCDDE8"/>
<ellipse cx="381.1" cy="1928.5" rx="35.3" ry="23.5" fill="#F5A99D"/>
<ellipse cx="473.0" cy="1958.0" rx="35.3" ry="23.5" fill="#F5A69A"/>
<ellipse cx="539.9" cy="1942.2" rx="35.3" ry="23.5" fill="#F7B0A6"/>
<ellipse cx="322.6" cy="1974.3" rx="35.3" ry="23.5" fill="#F59383"/>
<ellipse cx="404.1" cy="2001.1" rx="35.3" ry="23.5" fill="#F5A397"/>
<ellipse cx="477.0" cy="2018.5" rx="35.3" ry="23.5" fill="#F5A59A"/>
<ellipse cx="553.0" cy="2004.4" rx="35.3" ry="23.5" fill="#F36C58"/>
<ellipse cx="276.6" cy="2027.2" rx="35.3" ry="23.5" fill="#F5A59A"/>
<ellipse cx="361.8" cy="2054.0" rx="35.3" ry="23.5" fill="#F5A094"/>
<ellipse cx="458.5" cy="2070.7" rx="35.3" ry="23.5" fill="#F5A296"/>
<ellipse cx="550.9" cy="2074.8" rx="35.3" ry="23.5" fill="#F5A59A"/>
<ellipse cx="615.7" cy="2046.9" rx="35.3" ry="23.5" fill="#F38F80"/>
<ellipse cx="773.6" cy="2078.4" rx="35.3" ry="23.5" fill="#B4D8E8"/>
<ellipse cx="264.3" cy="2115.2" rx="35.3" ry="23.5" fill="#F5A498"/>
<ellipse cx="406.8" cy="2105.8" rx="35.3" ry="23.5" fill="#F3877A"/>
<ellipse cx="348.6" cy="2140.4" rx="35.3" ry="23.5" fill="#F8B2A8"/>
<ellipse cx="521.6" cy="2125.1" rx="35.3" ry="23.5" fill="#F7ADA2"/>
<ellipse cx="628.0" cy="2111.0" rx="35.3" ry="23.5" fill="#F5A092"/>
<ellipse cx="461.7" cy="2155.0" rx="35.3" ry="23.5" fill="#F8B4AA"/>
<ellipse cx="398.2" cy="2180.4" rx="35.3" ry="23.5" fill="#F39A8C"/>
<ellipse cx="534.3" cy="2177.9" rx="35.3" ry="23.5" fill="#F5998B"/>
<ellipse cx="123.4" cy="2183.6" rx="35.3" ry="23.5" fill="#98CBE0"/>
<ellipse cx="680.3" cy="2208.4" rx="35.3" ry="23.5" fill="#B4D8E8"/>
<ellipse cx="425.3" cy="2229.3" rx="35.3" ry="23.5" fill="#F59F92"/>
<ellipse cx="494.7" cy="2240.5" rx="35.3" ry="23.5" fill="#F5A498"/>
<ellipse cx="179.3" cy="2252.5" rx="35.3" ry="23.5" fill="#A8D4E6"/>
<ellipse cx="255.6" cy="2266.4" rx="35.3" ry="23.5" fill="#F39C8E"/>
<ellipse cx="629.4" cy="2258.7" rx="35.3" ry="23.5" fill="#B4D8E8"/>
<ellipse cx="827.6" cy="2263.5" rx="35.3" ry="23.5" fill="#98CBE0"/>
<ellipse cx="712.4" cy="2290.8" rx="35.3" ry="23.5" fill="#98CBE0"/>
<ellipse cx="1052.8" cy="2290.3" rx="35.3" ry="23.5" fill="#98CBE0"/>
<ellipse cx="885.6" cy="2320.4" rx="35.3" ry="23.5" fill="#B4D8E8"/>
<ellipse cx="792.8" cy="2340.5" rx="35.3" ry="23.5" fill="#B4D8E8"/>
<ellipse cx="987.2" cy="2345.8" rx="35.3" ry="23.5" fill="#BCDDEA"/>
<ellipse cx="389.2" cy="2341.0" rx="35.3" ry="23.5" fill="#98CBE0"/>
<text x="736.5" y="1468.6" font-size="15.5" text-anchor="middle" font-weight="normal" fill="#000" textLength="91.8" lengthAdjust="spacingAndGlyphs" stroke="#000" stroke-width="0.12">ABD29322.1</text>
<text x="834.0" y="1460.0" font-size="15.5" text-anchor="middle" font-weight="normal" fill="#000" textLength="91.8" lengthAdjust="spacingAndGlyphs" stroke="#000" stroke-width="0.12">ABD29700.1</text>
<text x="718.7" y="1552.8" font-size="15.5" text-anchor="middle" font-weight="normal" fill="#000" textLength="91.8" lengthAdjust="spacingAndGlyphs" stroke="#000" stroke-width="0.12">ABD29717.1</text>
<text x="854.5" y="1581.5" font-size="15.5" text-anchor="middle" font-weight="normal" fill="#000" textLength="91.8" lengthAdjust="spacingAndGlyphs" stroke="#000" stroke-width="0.12">ABD31924.1</text>
<text x="623.6" y="1580.0" font-size="15.5" text-anchor="middle" font-weight="normal" fill="#000" stroke="#000" stroke-width="0.12" letter-spacing="0.35">coaE</text>
<text x="777.5" y="1630.1" font-size="15.5" text-anchor="middle" font-weight="normal" fill="#000" textLength="91.8" lengthAdjust="spacingAndGlyphs" stroke="#000" stroke-width="0.12">ABD31397.1</text>
<text x="546.5" y="1637.7" font-size="15.5" text-anchor="middle" font-weight="normal" fill="#000" stroke="#000" stroke-width="0.12" letter-spacing="0.35">purS</text>
<text x="873.4" y="1696.1" font-size="15.5" text-anchor="middle" font-weight="normal" fill="#000" stroke="#000" stroke-width="0.12" letter-spacing="0.35">gpmI</text>
<text x="481.2" y="1718.7" font-size="15.5" text-anchor="middle" font-weight="normal" fill="#000" stroke="#000" stroke-width="0.12" letter-spacing="0.35">folD</text>
<text x="566.1" y="1734.2" font-size="15.5" text-anchor="middle" font-weight="normal" fill="#000" stroke="#000" stroke-width="0.12" letter-spacing="0.35">gmk</text>
<text x="656.4" y="1721.4" font-size="15.5" text-anchor="middle" font-weight="normal" fill="#000" stroke="#000" stroke-width="0.12" letter-spacing="0.35">tpiA</text>
<text x="778.6" y="1773.0" font-size="15.5" text-anchor="middle" font-weight="normal" fill="#000" stroke="#000" stroke-width="0.12" letter-spacing="0.35">gpmA</text>
<text x="579.5" y="1816.5" font-size="15.5" text-anchor="middle" font-weight="normal" fill="#000" stroke="#000" stroke-width="0.12" letter-spacing="0.35">ndk</text>
<text x="464.3" y="1825.1" font-size="15.5" text-anchor="middle" font-weight="normal" fill="#000" stroke="#000" stroke-width="0.12" letter-spacing="0.35">atpC</text>
<text x="129.6" y="1678.5" font-size="15.5" text-anchor="middle" font-weight="normal" fill="#000" textLength="91.8" lengthAdjust="spacingAndGlyphs" stroke="#000" stroke-width="0.12">ABD31047.1</text>
<text x="255.8" y="1670.2" font-size="15.5" text-anchor="middle" font-weight="normal" fill="#000" textLength="91.8" lengthAdjust="spacingAndGlyphs" stroke="#000" stroke-width="0.12">ABD30034.1</text>
<text x="127.0" y="1764.9" font-size="15.5" text-anchor="middle" font-weight="normal" fill="#000" textLength="91.8" lengthAdjust="spacingAndGlyphs" stroke="#000" stroke-width="0.12">ABD31046.1</text>
<text x="316.5" y="1750.5" font-size="15.5" text-anchor="middle" font-weight="normal" fill="#000" stroke="#000" stroke-width="0.12" letter-spacing="0.35">ribH</text>
<text x="1035.3" y="1706.1" font-size="15.5" text-anchor="middle" font-weight="normal" fill="#000" stroke="#000" stroke-width="0.12" letter-spacing="0.35">splF</text>
<text x="987.0" y="1793.8" font-size="15.5" text-anchor="middle" font-weight="normal" fill="#000" stroke="#000" stroke-width="0.12" letter-spacing="0.35">splB</text>
<text x="888.7" y="1882.7" font-size="15.5" text-anchor="middle" font-weight="normal" fill="#000" stroke="#000" stroke-width="0.12" letter-spacing="0.35">hlgB</text>
<text x="974.7" y="1882.6" font-size="15.5" text-anchor="middle" font-weight="normal" fill="#000" textLength="91.8" lengthAdjust="spacingAndGlyphs" stroke="#000" stroke-width="0.12">ABD31283.1</text>
<text x="888.2" y="1969.5" font-size="15.5" text-anchor="middle" font-weight="normal" fill="#000" stroke="#000" stroke-width="0.12" letter-spacing="0.35">hlgC</text>
<text x="970.3" y="1967.3" font-size="15.5" text-anchor="middle" font-weight="normal" fill="#000" stroke="#000" stroke-width="0.12" letter-spacing="0.35">hly</text>
<text x="715.2" y="1899.9" font-size="15.5" text-anchor="middle" font-weight="normal" fill="#000" textLength="91.8" lengthAdjust="spacingAndGlyphs" stroke="#000" stroke-width="0.12">ABD30221.1</text>
<text x="175.6" y="1952.9" font-size="15.5" text-anchor="middle" font-weight="normal" fill="#000" stroke="#000" stroke-width="0.12" letter-spacing="0.35">hpf</text>
<text x="381.1" y="1934.1" font-size="15.5" text-anchor="middle" font-weight="normal" fill="#000" stroke="#000" stroke-width="0.12" letter-spacing="0.35">rpsC</text>
<text x="473.0" y="1963.6" font-size="15.5" text-anchor="middle" font-weight="normal" fill="#000" stroke="#000" stroke-width="0.12" letter-spacing="0.35">rplQ</text>
<text x="539.9" y="1947.8" font-size="15.5" text-anchor="middle" font-weight="normal" fill="#000" stroke="#000" stroke-width="0.12" letter-spacing="0.35">rpsQ</text>
<text x="322.6" y="1979.9" font-size="15.5" text-anchor="middle" font-weight="normal" fill="#000" stroke="#000" stroke-width="0.12" letter-spacing="0.35">rpsS</text>
<text x="404.1" y="2006.7" font-size="15.5" text-anchor="middle" font-weight="normal" fill="#000" stroke="#000" stroke-width="0.12" letter-spacing="0.35">rplP</text>
<text x="477.0" y="2024.1" font-size="15.5" text-anchor="middle" font-weight="normal" fill="#000" stroke="#000" stroke-width="0.12" letter-spacing="0.35">rpmC</text>
<text x="553.0" y="2010.0" font-size="15.5" text-anchor="middle" font-weight="normal" fill="#000" stroke="#000" stroke-width="0.12" letter-spacing="0.35">rplX</text>
<text x="276.6" y="2032.8" font-size="15.5" text-anchor="middle" font-weight="normal" fill="#000" stroke="#000" stroke-width="0.12" letter-spacing="0.35">rpsT</text>
<text x="361.8" y="2059.6" font-size="15.5" text-anchor="middle" font-weight="normal" fill="#000" stroke="#000" stroke-width="0.12" letter-spacing="0.35">rplV</text>
<text x="458.5" y="2076.3" font-size="15.5" text-anchor="middle" font-weight="normal" fill="#000" stroke="#000" stroke-width="0.12" letter-spacing="0.35">rpsP</text>
<text x="550.9" y="2080.4" font-size="15.5" text-anchor="middle" font-weight="normal" fill="#000" stroke="#000" stroke-width="0.12" letter-spacing="0.35">rpsI</text>
<text x="615.7" y="2052.5" font-size="15.5" text-anchor="middle" font-weight="normal" fill="#000" stroke="#000" stroke-width="0.12" letter-spacing="0.35">rpmD</text>
<text x="773.6" y="2084.0" font-size="15.5" text-anchor="middle" font-weight="normal" fill="#000" textLength="91.8" lengthAdjust="spacingAndGlyphs" stroke="#000" stroke-width="0.12">ABD30016.1</text>
<text x="264.3" y="2120.8" font-size="15.5" text-anchor="middle" font-weight="normal" fill="#000" stroke="#000" stroke-width="0.12" letter-spacing="0.35">rplW</text>
<text x="406.8" y="2111.4" font-size="15.5" text-anchor="middle" font-weight="normal" fill="#000" stroke="#000" stroke-width="0.12" letter-spacing="0.35">rpmJ</text>
<text x="348.6" y="2146.0" font-size="15.5" text-anchor="middle" font-weight="normal" fill="#000" stroke="#000" stroke-width="0.12" letter-spacing="0.35">rplE</text>
<text x="521.6" y="2130.7" font-size="15.5" text-anchor="middle" font-weight="normal" fill="#000" stroke="#000" stroke-width="0.12" letter-spacing="0.35">rplC</text>
<text x="628.0" y="2116.6" font-size="15.5" text-anchor="middle" font-weight="normal" fill="#000" stroke="#000" stroke-width="0.12" letter-spacing="0.35">rpmA</text>
<text x="461.7" y="2160.6" font-size="15.5" text-anchor="middle" font-weight="normal" fill="#000" stroke="#000" stroke-width="0.12" letter-spacing="0.35">rpsL</text>
<text x="398.2" y="2186.0" font-size="15.5" text-anchor="middle" font-weight="normal" fill="#000" stroke="#000" stroke-width="0.12" letter-spacing="0.35">rpsF</text>
<text x="534.3" y="2183.5" font-size="15.5" text-anchor="middle" font-weight="normal" fill="#000" stroke="#000" stroke-width="0.12" letter-spacing="0.35">rplO</text>
<text x="123.4" y="2189.2" font-size="15.5" text-anchor="middle" font-weight="normal" fill="#000" stroke="#000" stroke-width="0.12" letter-spacing="0.35">trpS</text>
<text x="680.3" y="2214.0" font-size="15.5" text-anchor="middle" font-weight="normal" fill="#000" stroke="#000" stroke-width="0.12" letter-spacing="0.35">sodM</text>
<text x="425.3" y="2234.9" font-size="15.5" text-anchor="middle" font-weight="normal" fill="#000" stroke="#000" stroke-width="0.12" letter-spacing="0.35">rpsM</text>
<text x="494.7" y="2246.1" font-size="15.5" text-anchor="middle" font-weight="normal" fill="#000" stroke="#000" stroke-width="0.12" letter-spacing="0.35">rpmB</text>
<text x="179.3" y="2258.1" font-size="15.5" text-anchor="middle" font-weight="normal" fill="#000" stroke="#000" stroke-width="0.12" letter-spacing="0.35">serS</text>
<text x="255.6" y="2272.0" font-size="15.5" text-anchor="middle" font-weight="normal" fill="#000" stroke="#000" stroke-width="0.12" letter-spacing="0.35">infA</text>
<text x="629.4" y="2264.3" font-size="15.5" text-anchor="middle" font-weight="normal" fill="#000" stroke="#000" stroke-width="0.12" letter-spacing="0.35">sodA</text>
<text x="827.6" y="2269.1" font-size="15.5" text-anchor="middle" font-weight="normal" fill="#000" stroke="#000" stroke-width="0.12" letter-spacing="0.35">hchA</text>
<text x="712.4" y="2296.4" font-size="15.5" text-anchor="middle" font-weight="normal" fill="#000" stroke="#000" stroke-width="0.12" letter-spacing="0.35">katA</text>
<text x="1052.8" y="2295.9" font-size="15.5" text-anchor="middle" font-weight="normal" fill="#000" textLength="91.8" lengthAdjust="spacingAndGlyphs" stroke="#000" stroke-width="0.12">ABD31198.1</text>
<text x="885.6" y="2326.0" font-size="15.5" text-anchor="middle" font-weight="normal" fill="#000" textLength="91.8" lengthAdjust="spacingAndGlyphs" stroke="#000" stroke-width="0.12">ABD29960.1</text>
<text x="792.8" y="2346.1" font-size="15.5" text-anchor="middle" font-weight="normal" fill="#000" stroke="#000" stroke-width="0.12" letter-spacing="0.35">trxA</text>
<text x="987.2" y="2351.4" font-size="15.5" text-anchor="middle" font-weight="normal" fill="#000" stroke="#000" stroke-width="0.12" letter-spacing="0.35">msrA2</text>
<text x="389.2" y="2346.6" font-size="15.5" text-anchor="middle" font-weight="normal" fill="#000" stroke="#000" stroke-width="0.12" letter-spacing="0.35">plsX</text>
<text x="551.5" y="1412.3" font-size="28.3" text-anchor="start" font-weight="bold" fill="#800080" textLength="433.8" lengthAdjust="spacingAndGlyphs">map00680~Methane metabolism</text>
<text x="235.0" y="1528.1" font-size="28.3" text-anchor="start" font-weight="bold" fill="#0E7BBE" textLength="418.0" lengthAdjust="spacingAndGlyphs">GO:0006163~Purine nucleotide</text>
<text x="237.0" y="1562.0" font-size="28.3" text-anchor="start" font-weight="bold" fill="#0E7BBE" textLength="248.4" lengthAdjust="spacingAndGlyphs">metabolic process</text>
<text x="27.1" y="1873.1" font-size="28.3" text-anchor="start" font-weight="bold" fill="#C55A11" textLength="317.3" lengthAdjust="spacingAndGlyphs">GO:0005840~Ribosome</text>
<text x="8.4" y="2344.0" font-size="28.3" text-anchor="start" font-weight="bold" fill="#FF0000" textLength="332.1" lengthAdjust="spacingAndGlyphs">GO:0006412~Translation</text>
<text x="831.9" y="2034.5" font-size="28.3" text-anchor="start" font-weight="bold" fill="#0EAA45" textLength="305.6" lengthAdjust="spacingAndGlyphs">GO:0051715~Cytolysis</text>
<text x="834.1" y="2067.5" font-size="28.3" text-anchor="start" font-weight="bold" fill="#0EAA45" textLength="271.4" lengthAdjust="spacingAndGlyphs">in another organism</text>
<text x="786.0" y="2160.2" font-size="28.3" text-anchor="start" font-weight="bold" fill="#FFBA00" textLength="398.3" lengthAdjust="spacingAndGlyphs">GO:0072593~Reactive oxygen</text>
<text x="825.1" y="2193.5" font-size="28.3" text-anchor="start" font-weight="bold" fill="#FFBA00" textLength="360.3" lengthAdjust="spacingAndGlyphs">species metabolic process</text>
<rect x="634.9" y="2385.7" width="479.3" height="82.3" fill="#CDCDCD"/>
<text x="675.5" y="2419.0" font-size="28.3" text-anchor="start" font-weight="bold" fill="#FFFF00" textLength="396.0" lengthAdjust="spacingAndGlyphs">CL:1584~Antioxidant activity,</text>
<text x="640.5" y="2457.0" font-size="28.3" text-anchor="start" font-weight="bold" fill="#FFFF00" textLength="469.5" lengthAdjust="spacingAndGlyphs">and Rhodanese Homology Domain</text>
<defs><linearGradient id="lfc" x1="0" y1="0" x2="1" y2="0"><stop offset="0" stop-color="#0096C8"/><stop offset="0.14" stop-color="#00ACD6"/><stop offset="0.155" stop-color="#28B6DA"/><stop offset="0.25" stop-color="#80C8E2"/><stop offset="0.35" stop-color="#B4DAE8"/><stop offset="0.44" stop-color="#DCEBF0"/><stop offset="0.5" stop-color="#F6F6F6"/><stop offset="0.62" stop-color="#FAD6D2"/><stop offset="0.75" stop-color="#F9B2AA"/><stop offset="0.88" stop-color="#F8877A"/><stop offset="1" stop-color="#F85540"/></linearGradient></defs>
<text x="26.4" y="2409.7" font-size="12.2" text-anchor="start" font-weight="normal" fill="#000" textLength="150.7" lengthAdjust="spacingAndGlyphs">Node Fill Color:&#160; log2FC</text>
<rect x="26.4" y="2415.4" width="327.2" height="64.4" fill="url(#lfc)" stroke="#333" stroke-width="1"/>
<line x1="26.4" y1="2479.8" x2="26.4" y2="2486" stroke="#111" stroke-width="1.4"/>
<text x="26.4" y="2502.0" font-size="12.5" text-anchor="middle" font-weight="normal" fill="#000">−3.2</text>
<line x1="108.9" y1="2479.8" x2="108.9" y2="2486" stroke="#111" stroke-width="1.4"/>
<text x="108.9" y="2502.0" font-size="12.5" text-anchor="middle" font-weight="normal" fill="#000">−1.7</text>
<line x1="190.7" y1="2479.8" x2="190.7" y2="2486" stroke="#111" stroke-width="1.4"/>
<text x="190.7" y="2502.0" font-size="12.5" text-anchor="middle" font-weight="normal" fill="#000">−0.3</text>
<line x1="272.5" y1="2479.8" x2="272.5" y2="2486" stroke="#111" stroke-width="1.4"/>
<text x="272.5" y="2502.0" font-size="12.5" text-anchor="middle" font-weight="normal" fill="#000">1.2</text>
<line x1="353.6" y1="2479.8" x2="353.6" y2="2486" stroke="#111" stroke-width="1.4"/>
<text x="353.6" y="2502.0" font-size="12.5" text-anchor="middle" font-weight="normal" fill="#000">2.7</text>
</svg></body></html>
